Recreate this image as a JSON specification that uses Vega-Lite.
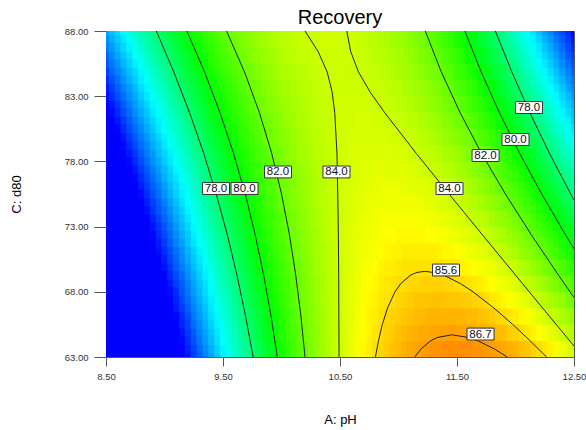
{
  "$schema": "https://vega.github.io/schema/vega-lite/v6.json",
  "width": 468,
  "height": 326,
  "autosize": {"type": "none"},
  "padding": {"left": 106, "top": 31, "right": 12, "bottom": 73},
  "background": "white",
  "config": {"view": {"stroke": "#555", "strokeWidth": 1}, "font": "Liberation Sans"},
  "title": {"text": "Recovery", "fontSize": 20, "fontWeight": "normal", "font": "Liberation Sans", "color": "#000", "offset": 3, "dy": 21, "baseline": "alphabetic", "anchor": "middle"},
  "datasets": {
    "grid": [
      {"p":8.55,"d":63.625,"r":61.6},{"p":8.55,"d":64.875,"r":62.3},{"p":8.55,"d":66.125,"r":63.0},{"p":8.55,"d":67.375,"r":63.6},{"p":8.55,"d":68.625,"r":64.3},{"p":8.55,"d":69.875,"r":64.9},{"p":8.55,"d":71.125,"r":65.6},{"p":8.55,"d":72.375,"r":66.2},{"p":8.55,"d":73.625,"r":66.9},{"p":8.55,"d":74.875,"r":67.5},{"p":8.55,"d":76.125,"r":68.2},{"p":8.55,"d":77.375,"r":68.8},{"p":8.55,"d":78.625,"r":69.5},{"p":8.55,"d":79.875,"r":70.1},{"p":8.55,"d":81.125,"r":70.8},{"p":8.55,"d":82.375,"r":71.4},{"p":8.55,"d":83.625,"r":72.1},{"p":8.55,"d":84.875,"r":72.8},{"p":8.55,"d":86.125,"r":73.4},{"p":8.55,"d":87.375,"r":74.1},
      {"p":8.65,"d":63.625,"r":63.3},{"p":8.65,"d":64.875,"r":64.0},{"p":8.65,"d":66.125,"r":64.6},{"p":8.65,"d":67.375,"r":65.2},{"p":8.65,"d":68.625,"r":65.8},{"p":8.65,"d":69.875,"r":66.4},{"p":8.65,"d":71.125,"r":67.1},{"p":8.65,"d":72.375,"r":67.7},{"p":8.65,"d":73.625,"r":68.3},{"p":8.65,"d":74.875,"r":68.9},{"p":8.65,"d":76.125,"r":69.5},{"p":8.65,"d":77.375,"r":70.2},{"p":8.65,"d":78.625,"r":70.8},{"p":8.65,"d":79.875,"r":71.4},{"p":8.65,"d":81.125,"r":72.0},{"p":8.65,"d":82.375,"r":72.6},{"p":8.65,"d":83.625,"r":73.3},{"p":8.65,"d":84.875,"r":73.9},{"p":8.65,"d":86.125,"r":74.5},{"p":8.65,"d":87.375,"r":75.1},
      {"p":8.75,"d":63.625,"r":65.0},{"p":8.75,"d":64.875,"r":65.5},{"p":8.75,"d":66.125,"r":66.1},{"p":8.75,"d":67.375,"r":66.7},{"p":8.75,"d":68.625,"r":67.3},{"p":8.75,"d":69.875,"r":67.9},{"p":8.75,"d":71.125,"r":68.5},{"p":8.75,"d":72.375,"r":69.1},{"p":8.75,"d":73.625,"r":69.7},{"p":8.75,"d":74.875,"r":70.2},{"p":8.75,"d":76.125,"r":70.8},{"p":8.75,"d":77.375,"r":71.4},{"p":8.75,"d":78.625,"r":72.0},{"p":8.75,"d":79.875,"r":72.6},{"p":8.75,"d":81.125,"r":73.2},{"p":8.75,"d":82.375,"r":73.8},{"p":8.75,"d":83.625,"r":74.3},{"p":8.75,"d":84.875,"r":74.9},{"p":8.75,"d":86.125,"r":75.5},{"p":8.75,"d":87.375,"r":76.1},
      {"p":8.85,"d":63.625,"r":66.5},{"p":8.85,"d":64.875,"r":67.1},{"p":8.85,"d":66.125,"r":67.6},{"p":8.85,"d":67.375,"r":68.2},{"p":8.85,"d":68.625,"r":68.7},{"p":8.85,"d":69.875,"r":69.3},{"p":8.85,"d":71.125,"r":69.8},{"p":8.85,"d":72.375,"r":70.4},{"p":8.85,"d":73.625,"r":71.0},{"p":8.85,"d":74.875,"r":71.5},{"p":8.85,"d":76.125,"r":72.1},{"p":8.85,"d":77.375,"r":72.6},{"p":8.85,"d":78.625,"r":73.2},{"p":8.85,"d":79.875,"r":73.7},{"p":8.85,"d":81.125,"r":74.3},{"p":8.85,"d":82.375,"r":74.8},{"p":8.85,"d":83.625,"r":75.4},{"p":8.85,"d":84.875,"r":75.9},{"p":8.85,"d":86.125,"r":76.5},{"p":8.85,"d":87.375,"r":77.0},
      {"p":8.95,"d":63.625,"r":68.0},{"p":8.95,"d":64.875,"r":68.6},{"p":8.95,"d":66.125,"r":69.1},{"p":8.95,"d":67.375,"r":69.6},{"p":8.95,"d":68.625,"r":70.1},{"p":8.95,"d":69.875,"r":70.6},{"p":8.95,"d":71.125,"r":71.2},{"p":8.95,"d":72.375,"r":71.7},{"p":8.95,"d":73.625,"r":72.2},{"p":8.95,"d":74.875,"r":72.7},{"p":8.95,"d":76.125,"r":73.2},{"p":8.95,"d":77.375,"r":73.8},{"p":8.95,"d":78.625,"r":74.3},{"p":8.95,"d":79.875,"r":74.8},{"p":8.95,"d":81.125,"r":75.3},{"p":8.95,"d":82.375,"r":75.8},{"p":8.95,"d":83.625,"r":76.4},{"p":8.95,"d":84.875,"r":76.9},{"p":8.95,"d":86.125,"r":77.4},{"p":8.95,"d":87.375,"r":77.9},
      {"p":9.05,"d":63.625,"r":69.5},{"p":9.05,"d":64.875,"r":70.0},{"p":9.05,"d":66.125,"r":70.5},{"p":9.05,"d":67.375,"r":71.0},{"p":9.05,"d":68.625,"r":71.4},{"p":9.05,"d":69.875,"r":71.9},{"p":9.05,"d":71.125,"r":72.4},{"p":9.05,"d":72.375,"r":72.9},{"p":9.05,"d":73.625,"r":73.4},{"p":9.05,"d":74.875,"r":73.9},{"p":9.05,"d":76.125,"r":74.4},{"p":9.05,"d":77.375,"r":74.8},{"p":9.05,"d":78.625,"r":75.3},{"p":9.05,"d":79.875,"r":75.8},{"p":9.05,"d":81.125,"r":76.3},{"p":9.05,"d":82.375,"r":76.8},{"p":9.05,"d":83.625,"r":77.3},{"p":9.05,"d":84.875,"r":77.8},{"p":9.05,"d":86.125,"r":78.2},{"p":9.05,"d":87.375,"r":78.7},
      {"p":9.15,"d":63.625,"r":70.9},{"p":9.15,"d":64.875,"r":71.3},{"p":9.15,"d":66.125,"r":71.8},{"p":9.15,"d":67.375,"r":72.3},{"p":9.15,"d":68.625,"r":72.7},{"p":9.15,"d":69.875,"r":73.2},{"p":9.15,"d":71.125,"r":73.6},{"p":9.15,"d":72.375,"r":74.1},{"p":9.15,"d":73.625,"r":74.5},{"p":9.15,"d":74.875,"r":75.0},{"p":9.15,"d":76.125,"r":75.4},{"p":9.15,"d":77.375,"r":75.9},{"p":9.15,"d":78.625,"r":76.3},{"p":9.15,"d":79.875,"r":76.8},{"p":9.15,"d":81.125,"r":77.2},{"p":9.15,"d":82.375,"r":77.7},{"p":9.15,"d":83.625,"r":78.1},{"p":9.15,"d":84.875,"r":78.6},{"p":9.15,"d":86.125,"r":79.0},{"p":9.15,"d":87.375,"r":79.5},
      {"p":9.25,"d":63.625,"r":72.2},{"p":9.25,"d":64.875,"r":72.6},{"p":9.25,"d":66.125,"r":73.1},{"p":9.25,"d":67.375,"r":73.5},{"p":9.25,"d":68.625,"r":73.9},{"p":9.25,"d":69.875,"r":74.3},{"p":9.25,"d":71.125,"r":74.7},{"p":9.25,"d":72.375,"r":75.2},{"p":9.25,"d":73.625,"r":75.6},{"p":9.25,"d":74.875,"r":76.0},{"p":9.25,"d":76.125,"r":76.4},{"p":9.25,"d":77.375,"r":76.8},{"p":9.25,"d":78.625,"r":77.3},{"p":9.25,"d":79.875,"r":77.7},{"p":9.25,"d":81.125,"r":78.1},{"p":9.25,"d":82.375,"r":78.5},{"p":9.25,"d":83.625,"r":78.9},{"p":9.25,"d":84.875,"r":79.3},{"p":9.25,"d":86.125,"r":79.8},{"p":9.25,"d":87.375,"r":80.2},
      {"p":9.35,"d":63.625,"r":73.5},{"p":9.35,"d":64.875,"r":73.9},{"p":9.35,"d":66.125,"r":74.3},{"p":9.35,"d":67.375,"r":74.7},{"p":9.35,"d":68.625,"r":75.0},{"p":9.35,"d":69.875,"r":75.4},{"p":9.35,"d":71.125,"r":75.8},{"p":9.35,"d":72.375,"r":76.2},{"p":9.35,"d":73.625,"r":76.6},{"p":9.35,"d":74.875,"r":77.0},{"p":9.35,"d":76.125,"r":77.4},{"p":9.35,"d":77.375,"r":77.7},{"p":9.35,"d":78.625,"r":78.1},{"p":9.35,"d":79.875,"r":78.5},{"p":9.35,"d":81.125,"r":78.9},{"p":9.35,"d":82.375,"r":79.3},{"p":9.35,"d":83.625,"r":79.7},{"p":9.35,"d":84.875,"r":80.1},{"p":9.35,"d":86.125,"r":80.4},{"p":9.35,"d":87.375,"r":80.8},
      {"p":9.45,"d":63.625,"r":74.7},{"p":9.45,"d":64.875,"r":75.1},{"p":9.45,"d":66.125,"r":75.4},{"p":9.45,"d":67.375,"r":75.8},{"p":9.45,"d":68.625,"r":76.1},{"p":9.45,"d":69.875,"r":76.5},{"p":9.45,"d":71.125,"r":76.8},{"p":9.45,"d":72.375,"r":77.2},{"p":9.45,"d":73.625,"r":77.5},{"p":9.45,"d":74.875,"r":77.9},{"p":9.45,"d":76.125,"r":78.2},{"p":9.45,"d":77.375,"r":78.6},{"p":9.45,"d":78.625,"r":78.9},{"p":9.45,"d":79.875,"r":79.3},{"p":9.45,"d":81.125,"r":79.7},{"p":9.45,"d":82.375,"r":80.0},{"p":9.45,"d":83.625,"r":80.4},{"p":9.45,"d":84.875,"r":80.7},{"p":9.45,"d":86.125,"r":81.1},{"p":9.45,"d":87.375,"r":81.4},
      {"p":9.55,"d":63.625,"r":75.9},{"p":9.55,"d":64.875,"r":76.2},{"p":9.55,"d":66.125,"r":76.5},{"p":9.55,"d":67.375,"r":76.8},{"p":9.55,"d":68.625,"r":77.2},{"p":9.55,"d":69.875,"r":77.5},{"p":9.55,"d":71.125,"r":77.8},{"p":9.55,"d":72.375,"r":78.1},{"p":9.55,"d":73.625,"r":78.4},{"p":9.55,"d":74.875,"r":78.8},{"p":9.55,"d":76.125,"r":79.1},{"p":9.55,"d":77.375,"r":79.4},{"p":9.55,"d":78.625,"r":79.7},{"p":9.55,"d":79.875,"r":80.0},{"p":9.55,"d":81.125,"r":80.3},{"p":9.55,"d":82.375,"r":80.7},{"p":9.55,"d":83.625,"r":81.0},{"p":9.55,"d":84.875,"r":81.3},{"p":9.55,"d":86.125,"r":81.6},{"p":9.55,"d":87.375,"r":81.9},
      {"p":9.65,"d":63.625,"r":77.0},{"p":9.65,"d":64.875,"r":77.3},{"p":9.65,"d":66.125,"r":77.6},{"p":9.65,"d":67.375,"r":77.9},{"p":9.65,"d":68.625,"r":78.1},{"p":9.65,"d":69.875,"r":78.4},{"p":9.65,"d":71.125,"r":78.7},{"p":9.65,"d":72.375,"r":79.0},{"p":9.65,"d":73.625,"r":79.3},{"p":9.65,"d":74.875,"r":79.6},{"p":9.65,"d":76.125,"r":79.8},{"p":9.65,"d":77.375,"r":80.1},{"p":9.65,"d":78.625,"r":80.4},{"p":9.65,"d":79.875,"r":80.7},{"p":9.65,"d":81.125,"r":81.0},{"p":9.65,"d":82.375,"r":81.3},{"p":9.65,"d":83.625,"r":81.6},{"p":9.65,"d":84.875,"r":81.8},{"p":9.65,"d":86.125,"r":82.1},{"p":9.65,"d":87.375,"r":82.4},
      {"p":9.75,"d":63.625,"r":78.0},{"p":9.75,"d":64.875,"r":78.3},{"p":9.75,"d":66.125,"r":78.5},{"p":9.75,"d":67.375,"r":78.8},{"p":9.75,"d":68.625,"r":79.1},{"p":9.75,"d":69.875,"r":79.3},{"p":9.75,"d":71.125,"r":79.6},{"p":9.75,"d":72.375,"r":79.8},{"p":9.75,"d":73.625,"r":80.1},{"p":9.75,"d":74.875,"r":80.3},{"p":9.75,"d":76.125,"r":80.6},{"p":9.75,"d":77.375,"r":80.8},{"p":9.75,"d":78.625,"r":81.1},{"p":9.75,"d":79.875,"r":81.3},{"p":9.75,"d":81.125,"r":81.6},{"p":9.75,"d":82.375,"r":81.8},{"p":9.75,"d":83.625,"r":82.1},{"p":9.75,"d":84.875,"r":82.3},{"p":9.75,"d":86.125,"r":82.6},{"p":9.75,"d":87.375,"r":82.8},
      {"p":9.85,"d":63.625,"r":79.0},{"p":9.85,"d":64.875,"r":79.3},{"p":9.85,"d":66.125,"r":79.5},{"p":9.85,"d":67.375,"r":79.7},{"p":9.85,"d":68.625,"r":79.9},{"p":9.85,"d":69.875,"r":80.1},{"p":9.85,"d":71.125,"r":80.3},{"p":9.85,"d":72.375,"r":80.6},{"p":9.85,"d":73.625,"r":80.8},{"p":9.85,"d":74.875,"r":81.0},{"p":9.85,"d":76.125,"r":81.2},{"p":9.85,"d":77.375,"r":81.4},{"p":9.85,"d":78.625,"r":81.6},{"p":9.85,"d":79.875,"r":81.9},{"p":9.85,"d":81.125,"r":82.1},{"p":9.85,"d":82.375,"r":82.3},{"p":9.85,"d":83.625,"r":82.5},{"p":9.85,"d":84.875,"r":82.7},{"p":9.85,"d":86.125,"r":83.0},{"p":9.85,"d":87.375,"r":83.2},
      {"p":9.95,"d":63.625,"r":80.0},{"p":9.95,"d":64.875,"r":80.1},{"p":9.95,"d":66.125,"r":80.3},{"p":9.95,"d":67.375,"r":80.5},{"p":9.95,"d":68.625,"r":80.7},{"p":9.95,"d":69.875,"r":80.9},{"p":9.95,"d":71.125,"r":81.1},{"p":9.95,"d":72.375,"r":81.3},{"p":9.95,"d":73.625,"r":81.4},{"p":9.95,"d":74.875,"r":81.6},{"p":9.95,"d":76.125,"r":81.8},{"p":9.95,"d":77.375,"r":82.0},{"p":9.95,"d":78.625,"r":82.2},{"p":9.95,"d":79.875,"r":82.4},{"p":9.95,"d":81.125,"r":82.5},{"p":9.95,"d":82.375,"r":82.7},{"p":9.95,"d":83.625,"r":82.9},{"p":9.95,"d":84.875,"r":83.1},{"p":9.95,"d":86.125,"r":83.3},{"p":9.95,"d":87.375,"r":83.5},
      {"p":10.05,"d":63.625,"r":80.8},{"p":10.05,"d":64.875,"r":81.0},{"p":10.05,"d":66.125,"r":81.1},{"p":10.05,"d":67.375,"r":81.3},{"p":10.05,"d":68.625,"r":81.4},{"p":10.05,"d":69.875,"r":81.6},{"p":10.05,"d":71.125,"r":81.7},{"p":10.05,"d":72.375,"r":81.9},{"p":10.05,"d":73.625,"r":82.0},{"p":10.05,"d":74.875,"r":82.2},{"p":10.05,"d":76.125,"r":82.3},{"p":10.05,"d":77.375,"r":82.5},{"p":10.05,"d":78.625,"r":82.6},{"p":10.05,"d":79.875,"r":82.8},{"p":10.05,"d":81.125,"r":83.0},{"p":10.05,"d":82.375,"r":83.1},{"p":10.05,"d":83.625,"r":83.2},{"p":10.05,"d":84.875,"r":83.4},{"p":10.05,"d":86.125,"r":83.6},{"p":10.05,"d":87.375,"r":83.7},
      {"p":10.15,"d":63.625,"r":81.7},{"p":10.15,"d":64.875,"r":81.8},{"p":10.15,"d":66.125,"r":81.9},{"p":10.15,"d":67.375,"r":82.0},{"p":10.15,"d":68.625,"r":82.1},{"p":10.15,"d":69.875,"r":82.2},{"p":10.15,"d":71.125,"r":82.4},{"p":10.15,"d":72.375,"r":82.5},{"p":10.15,"d":73.625,"r":82.6},{"p":10.15,"d":74.875,"r":82.7},{"p":10.15,"d":76.125,"r":82.8},{"p":10.15,"d":77.375,"r":82.9},{"p":10.15,"d":78.625,"r":83.1},{"p":10.15,"d":79.875,"r":83.2},{"p":10.15,"d":81.125,"r":83.3},{"p":10.15,"d":82.375,"r":83.4},{"p":10.15,"d":83.625,"r":83.5},{"p":10.15,"d":84.875,"r":83.6},{"p":10.15,"d":86.125,"r":83.8},{"p":10.15,"d":87.375,"r":83.9},
      {"p":10.25,"d":63.625,"r":82.4},{"p":10.25,"d":64.875,"r":82.5},{"p":10.25,"d":66.125,"r":82.6},{"p":10.25,"d":67.375,"r":82.7},{"p":10.25,"d":68.625,"r":82.7},{"p":10.25,"d":69.875,"r":82.8},{"p":10.25,"d":71.125,"r":82.9},{"p":10.25,"d":72.375,"r":83.0},{"p":10.25,"d":73.625,"r":83.1},{"p":10.25,"d":74.875,"r":83.2},{"p":10.25,"d":76.125,"r":83.2},{"p":10.25,"d":77.375,"r":83.3},{"p":10.25,"d":78.625,"r":83.4},{"p":10.25,"d":79.875,"r":83.5},{"p":10.25,"d":81.125,"r":83.6},{"p":10.25,"d":82.375,"r":83.7},{"p":10.25,"d":83.625,"r":83.7},{"p":10.25,"d":84.875,"r":83.8},{"p":10.25,"d":86.125,"r":83.9},{"p":10.25,"d":87.375,"r":84.0},
      {"p":10.35,"d":63.625,"r":83.1},{"p":10.35,"d":64.875,"r":83.2},{"p":10.35,"d":66.125,"r":83.2},{"p":10.35,"d":67.375,"r":83.3},{"p":10.35,"d":68.625,"r":83.3},{"p":10.35,"d":69.875,"r":83.4},{"p":10.35,"d":71.125,"r":83.4},{"p":10.35,"d":72.375,"r":83.5},{"p":10.35,"d":73.625,"r":83.5},{"p":10.35,"d":74.875,"r":83.6},{"p":10.35,"d":76.125,"r":83.6},{"p":10.35,"d":77.375,"r":83.7},{"p":10.35,"d":78.625,"r":83.7},{"p":10.35,"d":79.875,"r":83.8},{"p":10.35,"d":81.125,"r":83.8},{"p":10.35,"d":82.375,"r":83.9},{"p":10.35,"d":83.625,"r":83.9},{"p":10.35,"d":84.875,"r":84.0},{"p":10.35,"d":86.125,"r":84.0},{"p":10.35,"d":87.375,"r":84.1},
      {"p":10.45,"d":63.625,"r":83.8},{"p":10.45,"d":64.875,"r":83.8},{"p":10.45,"d":66.125,"r":83.8},{"p":10.45,"d":67.375,"r":83.8},{"p":10.45,"d":68.625,"r":83.8},{"p":10.45,"d":69.875,"r":83.8},{"p":10.45,"d":71.125,"r":83.9},{"p":10.45,"d":72.375,"r":83.9},{"p":10.45,"d":73.625,"r":83.9},{"p":10.45,"d":74.875,"r":83.9},{"p":10.45,"d":76.125,"r":83.9},{"p":10.45,"d":77.375,"r":83.9},{"p":10.45,"d":78.625,"r":84.0},{"p":10.45,"d":79.875,"r":84.0},{"p":10.45,"d":81.125,"r":84.0},{"p":10.45,"d":82.375,"r":84.0},{"p":10.45,"d":83.625,"r":84.0},{"p":10.45,"d":84.875,"r":84.0},{"p":10.45,"d":86.125,"r":84.1},{"p":10.45,"d":87.375,"r":84.1},
      {"p":10.55,"d":63.625,"r":84.3},{"p":10.55,"d":64.875,"r":84.3},{"p":10.55,"d":66.125,"r":84.3},{"p":10.55,"d":67.375,"r":84.3},{"p":10.55,"d":68.625,"r":84.3},{"p":10.55,"d":69.875,"r":84.2},{"p":10.55,"d":71.125,"r":84.2},{"p":10.55,"d":72.375,"r":84.2},{"p":10.55,"d":73.625,"r":84.2},{"p":10.55,"d":74.875,"r":84.2},{"p":10.55,"d":76.125,"r":84.2},{"p":10.55,"d":77.375,"r":84.1},{"p":10.55,"d":78.625,"r":84.1},{"p":10.55,"d":79.875,"r":84.1},{"p":10.55,"d":81.125,"r":84.1},{"p":10.55,"d":82.375,"r":84.1},{"p":10.55,"d":83.625,"r":84.1},{"p":10.55,"d":84.875,"r":84.0},{"p":10.55,"d":86.125,"r":84.0},{"p":10.55,"d":87.375,"r":84.0},
      {"p":10.65,"d":63.625,"r":84.9},{"p":10.65,"d":64.875,"r":84.8},{"p":10.65,"d":66.125,"r":84.8},{"p":10.65,"d":67.375,"r":84.7},{"p":10.65,"d":68.625,"r":84.7},{"p":10.65,"d":69.875,"r":84.6},{"p":10.65,"d":71.125,"r":84.6},{"p":10.65,"d":72.375,"r":84.5},{"p":10.65,"d":73.625,"r":84.5},{"p":10.65,"d":74.875,"r":84.4},{"p":10.65,"d":76.125,"r":84.4},{"p":10.65,"d":77.375,"r":84.3},{"p":10.65,"d":78.625,"r":84.3},{"p":10.65,"d":79.875,"r":84.2},{"p":10.65,"d":81.125,"r":84.2},{"p":10.65,"d":82.375,"r":84.1},{"p":10.65,"d":83.625,"r":84.1},{"p":10.65,"d":84.875,"r":84.0},{"p":10.65,"d":86.125,"r":84.0},{"p":10.65,"d":87.375,"r":83.9},
      {"p":10.75,"d":63.625,"r":85.3},{"p":10.75,"d":64.875,"r":85.2},{"p":10.75,"d":66.125,"r":85.2},{"p":10.75,"d":67.375,"r":85.1},{"p":10.75,"d":68.625,"r":85.0},{"p":10.75,"d":69.875,"r":84.9},{"p":10.75,"d":71.125,"r":84.8},{"p":10.75,"d":72.375,"r":84.7},{"p":10.75,"d":73.625,"r":84.7},{"p":10.75,"d":74.875,"r":84.6},{"p":10.75,"d":76.125,"r":84.5},{"p":10.75,"d":77.375,"r":84.4},{"p":10.75,"d":78.625,"r":84.3},{"p":10.75,"d":79.875,"r":84.2},{"p":10.75,"d":81.125,"r":84.2},{"p":10.75,"d":82.375,"r":84.1},{"p":10.75,"d":83.625,"r":84.0},{"p":10.75,"d":84.875,"r":83.9},{"p":10.75,"d":86.125,"r":83.8},{"p":10.75,"d":87.375,"r":83.7},
      {"p":10.85,"d":63.625,"r":85.7},{"p":10.85,"d":64.875,"r":85.6},{"p":10.85,"d":66.125,"r":85.5},{"p":10.85,"d":67.375,"r":85.4},{"p":10.85,"d":68.625,"r":85.3},{"p":10.85,"d":69.875,"r":85.2},{"p":10.85,"d":71.125,"r":85.0},{"p":10.85,"d":72.375,"r":84.9},{"p":10.85,"d":73.625,"r":84.8},{"p":10.85,"d":74.875,"r":84.7},{"p":10.85,"d":76.125,"r":84.6},{"p":10.85,"d":77.375,"r":84.5},{"p":10.85,"d":78.625,"r":84.3},{"p":10.85,"d":79.875,"r":84.2},{"p":10.85,"d":81.125,"r":84.1},{"p":10.85,"d":82.375,"r":84.0},{"p":10.85,"d":83.625,"r":83.9},{"p":10.85,"d":84.875,"r":83.7},{"p":10.85,"d":86.125,"r":83.6},{"p":10.85,"d":87.375,"r":83.5},
      {"p":10.95,"d":63.625,"r":86.1},{"p":10.95,"d":64.875,"r":85.9},{"p":10.95,"d":66.125,"r":85.8},{"p":10.95,"d":67.375,"r":85.6},{"p":10.95,"d":68.625,"r":85.5},{"p":10.95,"d":69.875,"r":85.3},{"p":10.95,"d":71.125,"r":85.2},{"p":10.95,"d":72.375,"r":85.0},{"p":10.95,"d":73.625,"r":84.9},{"p":10.95,"d":74.875,"r":84.7},{"p":10.95,"d":76.125,"r":84.6},{"p":10.95,"d":77.375,"r":84.4},{"p":10.95,"d":78.625,"r":84.3},{"p":10.95,"d":79.875,"r":84.1},{"p":10.95,"d":81.125,"r":84.0},{"p":10.95,"d":82.375,"r":83.8},{"p":10.95,"d":83.625,"r":83.7},{"p":10.95,"d":84.875,"r":83.5},{"p":10.95,"d":86.125,"r":83.4},{"p":10.95,"d":87.375,"r":83.2},
      {"p":11.05,"d":63.625,"r":86.4},{"p":11.05,"d":64.875,"r":86.2},{"p":11.05,"d":66.125,"r":86.0},{"p":11.05,"d":67.375,"r":85.8},{"p":11.05,"d":68.625,"r":85.6},{"p":11.05,"d":69.875,"r":85.5},{"p":11.05,"d":71.125,"r":85.3},{"p":11.05,"d":72.375,"r":85.1},{"p":11.05,"d":73.625,"r":84.9},{"p":11.05,"d":74.875,"r":84.7},{"p":11.05,"d":76.125,"r":84.5},{"p":11.05,"d":77.375,"r":84.4},{"p":11.05,"d":78.625,"r":84.2},{"p":11.05,"d":79.875,"r":84.0},{"p":11.05,"d":81.125,"r":83.8},{"p":11.05,"d":82.375,"r":83.6},{"p":11.05,"d":83.625,"r":83.4},{"p":11.05,"d":84.875,"r":83.2},{"p":11.05,"d":86.125,"r":83.1},{"p":11.05,"d":87.375,"r":82.9},
      {"p":11.15,"d":63.625,"r":86.6},{"p":11.15,"d":64.875,"r":86.4},{"p":11.15,"d":66.125,"r":86.2},{"p":11.15,"d":67.375,"r":86.0},{"p":11.15,"d":68.625,"r":85.7},{"p":11.15,"d":69.875,"r":85.5},{"p":11.15,"d":71.125,"r":85.3},{"p":11.15,"d":72.375,"r":85.1},{"p":11.15,"d":73.625,"r":84.9},{"p":11.15,"d":74.875,"r":84.7},{"p":11.15,"d":76.125,"r":84.4},{"p":11.15,"d":77.375,"r":84.2},{"p":11.15,"d":78.625,"r":84.0},{"p":11.15,"d":79.875,"r":83.8},{"p":11.15,"d":81.125,"r":83.6},{"p":11.15,"d":82.375,"r":83.3},{"p":11.15,"d":83.625,"r":83.1},{"p":11.15,"d":84.875,"r":82.9},{"p":11.15,"d":86.125,"r":82.7},{"p":11.15,"d":87.375,"r":82.5},
      {"p":11.25,"d":63.625,"r":86.8},{"p":11.25,"d":64.875,"r":86.5},{"p":11.25,"d":66.125,"r":86.3},{"p":11.25,"d":67.375,"r":86.0},{"p":11.25,"d":68.625,"r":85.8},{"p":11.25,"d":69.875,"r":85.5},{"p":11.25,"d":71.125,"r":85.3},{"p":11.25,"d":72.375,"r":85.0},{"p":11.25,"d":73.625,"r":84.8},{"p":11.25,"d":74.875,"r":84.5},{"p":11.25,"d":76.125,"r":84.3},{"p":11.25,"d":77.375,"r":84.0},{"p":11.25,"d":78.625,"r":83.8},{"p":11.25,"d":79.875,"r":83.5},{"p":11.25,"d":81.125,"r":83.3},{"p":11.25,"d":82.375,"r":83.0},{"p":11.25,"d":83.625,"r":82.8},{"p":11.25,"d":84.875,"r":82.5},{"p":11.25,"d":86.125,"r":82.3},{"p":11.25,"d":87.375,"r":82.0},
      {"p":11.35,"d":63.625,"r":86.9},{"p":11.35,"d":64.875,"r":86.6},{"p":11.35,"d":66.125,"r":86.3},{"p":11.35,"d":67.375,"r":86.1},{"p":11.35,"d":68.625,"r":85.8},{"p":11.35,"d":69.875,"r":85.5},{"p":11.35,"d":71.125,"r":85.2},{"p":11.35,"d":72.375,"r":84.9},{"p":11.35,"d":73.625,"r":84.6},{"p":11.35,"d":74.875,"r":84.3},{"p":11.35,"d":76.125,"r":84.1},{"p":11.35,"d":77.375,"r":83.8},{"p":11.35,"d":78.625,"r":83.5},{"p":11.35,"d":79.875,"r":83.2},{"p":11.35,"d":81.125,"r":82.9},{"p":11.35,"d":82.375,"r":82.6},{"p":11.35,"d":83.625,"r":82.4},{"p":11.35,"d":84.875,"r":82.1},{"p":11.35,"d":86.125,"r":81.8},{"p":11.35,"d":87.375,"r":81.5},
      {"p":11.45,"d":63.625,"r":87.0},{"p":11.45,"d":64.875,"r":86.7},{"p":11.45,"d":66.125,"r":86.3},{"p":11.45,"d":67.375,"r":86.0},{"p":11.45,"d":68.625,"r":85.7},{"p":11.45,"d":69.875,"r":85.4},{"p":11.45,"d":71.125,"r":85.1},{"p":11.45,"d":72.375,"r":84.7},{"p":11.45,"d":73.625,"r":84.4},{"p":11.45,"d":74.875,"r":84.1},{"p":11.45,"d":76.125,"r":83.8},{"p":11.45,"d":77.375,"r":83.5},{"p":11.45,"d":78.625,"r":83.2},{"p":11.45,"d":79.875,"r":82.8},{"p":11.45,"d":81.125,"r":82.5},{"p":11.45,"d":82.375,"r":82.2},{"p":11.45,"d":83.625,"r":81.9},{"p":11.45,"d":84.875,"r":81.6},{"p":11.45,"d":86.125,"r":81.2},{"p":11.45,"d":87.375,"r":80.9},
      {"p":11.55,"d":63.625,"r":87.0},{"p":11.55,"d":64.875,"r":86.6},{"p":11.55,"d":66.125,"r":86.3},{"p":11.55,"d":67.375,"r":85.9},{"p":11.55,"d":68.625,"r":85.6},{"p":11.55,"d":69.875,"r":85.2},{"p":11.55,"d":71.125,"r":84.9},{"p":11.55,"d":72.375,"r":84.5},{"p":11.55,"d":73.625,"r":84.2},{"p":11.55,"d":74.875,"r":83.8},{"p":11.55,"d":76.125,"r":83.5},{"p":11.55,"d":77.375,"r":83.1},{"p":11.55,"d":78.625,"r":82.8},{"p":11.55,"d":79.875,"r":82.4},{"p":11.55,"d":81.125,"r":82.1},{"p":11.55,"d":82.375,"r":81.7},{"p":11.55,"d":83.625,"r":81.4},{"p":11.55,"d":84.875,"r":81.0},{"p":11.55,"d":86.125,"r":80.6},{"p":11.55,"d":87.375,"r":80.3},
      {"p":11.65,"d":63.625,"r":86.9},{"p":11.65,"d":64.875,"r":86.5},{"p":11.65,"d":66.125,"r":86.2},{"p":11.65,"d":67.375,"r":85.8},{"p":11.65,"d":68.625,"r":85.4},{"p":11.65,"d":69.875,"r":85.0},{"p":11.65,"d":71.125,"r":84.6},{"p":11.65,"d":72.375,"r":84.2},{"p":11.65,"d":73.625,"r":83.8},{"p":11.65,"d":74.875,"r":83.5},{"p":11.65,"d":76.125,"r":83.1},{"p":11.65,"d":77.375,"r":82.7},{"p":11.65,"d":78.625,"r":82.3},{"p":11.65,"d":79.875,"r":81.9},{"p":11.65,"d":81.125,"r":81.5},{"p":11.65,"d":82.375,"r":81.1},{"p":11.65,"d":83.625,"r":80.8},{"p":11.65,"d":84.875,"r":80.4},{"p":11.65,"d":86.125,"r":80.0},{"p":11.65,"d":87.375,"r":79.6},
      {"p":11.75,"d":63.625,"r":86.8},{"p":11.75,"d":64.875,"r":86.4},{"p":11.75,"d":66.125,"r":86.0},{"p":11.75,"d":67.375,"r":85.6},{"p":11.75,"d":68.625,"r":85.1},{"p":11.75,"d":69.875,"r":84.7},{"p":11.75,"d":71.125,"r":84.3},{"p":11.75,"d":72.375,"r":83.9},{"p":11.75,"d":73.625,"r":83.5},{"p":11.75,"d":74.875,"r":83.0},{"p":11.75,"d":76.125,"r":82.6},{"p":11.75,"d":77.375,"r":82.2},{"p":11.75,"d":78.625,"r":81.8},{"p":11.75,"d":79.875,"r":81.4},{"p":11.75,"d":81.125,"r":80.9},{"p":11.75,"d":82.375,"r":80.5},{"p":11.75,"d":83.625,"r":80.1},{"p":11.75,"d":84.875,"r":79.7},{"p":11.75,"d":86.125,"r":79.3},{"p":11.75,"d":87.375,"r":78.9},
      {"p":11.85,"d":63.625,"r":86.6},{"p":11.85,"d":64.875,"r":86.2},{"p":11.85,"d":66.125,"r":85.7},{"p":11.85,"d":67.375,"r":85.3},{"p":11.85,"d":68.625,"r":84.8},{"p":11.85,"d":69.875,"r":84.4},{"p":11.85,"d":71.125,"r":83.9},{"p":11.85,"d":72.375,"r":83.5},{"p":11.85,"d":73.625,"r":83.0},{"p":11.85,"d":74.875,"r":82.6},{"p":11.85,"d":76.125,"r":82.1},{"p":11.85,"d":77.375,"r":81.7},{"p":11.85,"d":78.625,"r":81.2},{"p":11.85,"d":79.875,"r":80.8},{"p":11.85,"d":81.125,"r":80.3},{"p":11.85,"d":82.375,"r":79.9},{"p":11.85,"d":83.625,"r":79.4},{"p":11.85,"d":84.875,"r":79.0},{"p":11.85,"d":86.125,"r":78.5},{"p":11.85,"d":87.375,"r":78.0},
      {"p":11.95,"d":63.625,"r":86.4},{"p":11.95,"d":64.875,"r":85.9},{"p":11.95,"d":66.125,"r":85.4},{"p":11.95,"d":67.375,"r":85.0},{"p":11.95,"d":68.625,"r":84.5},{"p":11.95,"d":69.875,"r":84.0},{"p":11.95,"d":71.125,"r":83.5},{"p":11.95,"d":72.375,"r":83.0},{"p":11.95,"d":73.625,"r":82.5},{"p":11.95,"d":74.875,"r":82.0},{"p":11.95,"d":76.125,"r":81.6},{"p":11.95,"d":77.375,"r":81.1},{"p":11.95,"d":78.625,"r":80.6},{"p":11.95,"d":79.875,"r":80.1},{"p":11.95,"d":81.125,"r":79.6},{"p":11.95,"d":82.375,"r":79.1},{"p":11.95,"d":83.625,"r":78.6},{"p":11.95,"d":84.875,"r":78.2},{"p":11.95,"d":86.125,"r":77.7},{"p":11.95,"d":87.375,"r":77.2},
      {"p":12.05,"d":63.625,"r":86.1},{"p":12.05,"d":64.875,"r":85.6},{"p":12.05,"d":66.125,"r":85.1},{"p":12.05,"d":67.375,"r":84.6},{"p":12.05,"d":68.625,"r":84.0},{"p":12.05,"d":69.875,"r":83.5},{"p":12.05,"d":71.125,"r":83.0},{"p":12.05,"d":72.375,"r":82.5},{"p":12.05,"d":73.625,"r":82.0},{"p":12.05,"d":74.875,"r":81.5},{"p":12.05,"d":76.125,"r":80.9},{"p":12.05,"d":77.375,"r":80.4},{"p":12.05,"d":78.625,"r":79.9},{"p":12.05,"d":79.875,"r":79.4},{"p":12.05,"d":81.125,"r":78.9},{"p":12.05,"d":82.375,"r":78.3},{"p":12.05,"d":83.625,"r":77.8},{"p":12.05,"d":84.875,"r":77.3},{"p":12.05,"d":86.125,"r":76.8},{"p":12.05,"d":87.375,"r":76.3},
      {"p":12.15,"d":63.625,"r":85.8},{"p":12.15,"d":64.875,"r":85.2},{"p":12.15,"d":66.125,"r":84.7},{"p":12.15,"d":67.375,"r":84.1},{"p":12.15,"d":68.625,"r":83.6},{"p":12.15,"d":69.875,"r":83.0},{"p":12.15,"d":71.125,"r":82.5},{"p":12.15,"d":72.375,"r":81.9},{"p":12.15,"d":73.625,"r":81.4},{"p":12.15,"d":74.875,"r":80.8},{"p":12.15,"d":76.125,"r":80.3},{"p":12.15,"d":77.375,"r":79.7},{"p":12.15,"d":78.625,"r":79.1},{"p":12.15,"d":79.875,"r":78.6},{"p":12.15,"d":81.125,"r":78.0},{"p":12.15,"d":82.375,"r":77.5},{"p":12.15,"d":83.625,"r":76.9},{"p":12.15,"d":84.875,"r":76.4},{"p":12.15,"d":86.125,"r":75.8},{"p":12.15,"d":87.375,"r":75.3},
      {"p":12.25,"d":63.625,"r":85.4},{"p":12.25,"d":64.875,"r":84.8},{"p":12.25,"d":66.125,"r":84.2},{"p":12.25,"d":67.375,"r":83.6},{"p":12.25,"d":68.625,"r":83.0},{"p":12.25,"d":69.875,"r":82.4},{"p":12.25,"d":71.125,"r":81.9},{"p":12.25,"d":72.375,"r":81.3},{"p":12.25,"d":73.625,"r":80.7},{"p":12.25,"d":74.875,"r":80.1},{"p":12.25,"d":76.125,"r":79.5},{"p":12.25,"d":77.375,"r":78.9},{"p":12.25,"d":78.625,"r":78.3},{"p":12.25,"d":79.875,"r":77.8},{"p":12.25,"d":81.125,"r":77.2},{"p":12.25,"d":82.375,"r":76.6},{"p":12.25,"d":83.625,"r":76.0},{"p":12.25,"d":84.875,"r":75.4},{"p":12.25,"d":86.125,"r":74.8},{"p":12.25,"d":87.375,"r":74.2},
      {"p":12.35,"d":63.625,"r":84.9},{"p":12.35,"d":64.875,"r":84.3},{"p":12.35,"d":66.125,"r":83.7},{"p":12.35,"d":67.375,"r":83.1},{"p":12.35,"d":68.625,"r":82.4},{"p":12.35,"d":69.875,"r":81.8},{"p":12.35,"d":71.125,"r":81.2},{"p":12.35,"d":72.375,"r":80.6},{"p":12.35,"d":73.625,"r":80.0},{"p":12.35,"d":74.875,"r":79.3},{"p":12.35,"d":76.125,"r":78.7},{"p":12.35,"d":77.375,"r":78.1},{"p":12.35,"d":78.625,"r":77.5},{"p":12.35,"d":79.875,"r":76.9},{"p":12.35,"d":81.125,"r":76.2},{"p":12.35,"d":82.375,"r":75.6},{"p":12.35,"d":83.625,"r":75.0},{"p":12.35,"d":84.875,"r":74.4},{"p":12.35,"d":86.125,"r":73.8},{"p":12.35,"d":87.375,"r":73.1},
      {"p":12.45,"d":63.625,"r":84.4},{"p":12.45,"d":64.875,"r":83.7},{"p":12.45,"d":66.125,"r":83.1},{"p":12.45,"d":67.375,"r":82.4},{"p":12.45,"d":68.625,"r":81.8},{"p":12.45,"d":69.875,"r":81.1},{"p":12.45,"d":71.125,"r":80.5},{"p":12.45,"d":72.375,"r":79.8},{"p":12.45,"d":73.625,"r":79.2},{"p":12.45,"d":74.875,"r":78.5},{"p":12.45,"d":76.125,"r":77.9},{"p":12.45,"d":77.375,"r":77.2},{"p":12.45,"d":78.625,"r":76.6},{"p":12.45,"d":79.875,"r":75.9},{"p":12.45,"d":81.125,"r":75.3},{"p":12.45,"d":82.375,"r":74.6},{"p":12.45,"d":83.625,"r":73.9},{"p":12.45,"d":84.875,"r":73.3},{"p":12.45,"d":86.125,"r":72.6},{"p":12.45,"d":87.375,"r":72.0}
    ],
    "fine": [
      {"p":8.5,"d":63.625,"r":60.8},{"p":8.5,"d":64.875,"r":61.5},{"p":8.5,"d":66.125,"r":62.1},{"p":8.5,"d":67.375,"r":62.8},{"p":8.5,"d":68.625,"r":63.5},{"p":8.5,"d":69.875,"r":64.1},{"p":8.5,"d":71.125,"r":64.8},{"p":8.5,"d":72.375,"r":65.5},{"p":8.5,"d":73.625,"r":66.1},{"p":8.5,"d":74.875,"r":66.8},{"p":8.5,"d":76.125,"r":67.5},{"p":8.5,"d":77.375,"r":68.2},{"p":8.5,"d":78.625,"r":68.8},{"p":8.5,"d":79.875,"r":69.5},{"p":8.5,"d":81.125,"r":70.2},{"p":8.5,"d":82.375,"r":70.8},{"p":8.5,"d":83.625,"r":71.5},{"p":8.5,"d":84.875,"r":72.2},{"p":8.5,"d":86.125,"r":72.8},{"p":8.5,"d":87.375,"r":73.5},
      {"p":8.6,"d":63.625,"r":62.5},{"p":8.6,"d":64.875,"r":63.1},{"p":8.6,"d":66.125,"r":63.8},{"p":8.6,"d":67.375,"r":64.4},{"p":8.6,"d":68.625,"r":65.0},{"p":8.6,"d":69.875,"r":65.7},{"p":8.6,"d":71.125,"r":66.3},{"p":8.6,"d":72.375,"r":67.0},{"p":8.6,"d":73.625,"r":67.6},{"p":8.6,"d":74.875,"r":68.2},{"p":8.6,"d":76.125,"r":68.9},{"p":8.6,"d":77.375,"r":69.5},{"p":8.6,"d":78.625,"r":70.1},{"p":8.6,"d":79.875,"r":70.8},{"p":8.6,"d":81.125,"r":71.4},{"p":8.6,"d":82.375,"r":72.0},{"p":8.6,"d":83.625,"r":72.7},{"p":8.6,"d":84.875,"r":73.3},{"p":8.6,"d":86.125,"r":74.0},{"p":8.6,"d":87.375,"r":74.6},
      {"p":8.7,"d":63.625,"r":64.2},{"p":8.7,"d":64.875,"r":64.8},{"p":8.7,"d":66.125,"r":65.4},{"p":8.7,"d":67.375,"r":66.0},{"p":8.7,"d":68.625,"r":66.6},{"p":8.7,"d":69.875,"r":67.2},{"p":8.7,"d":71.125,"r":67.8},{"p":8.7,"d":72.375,"r":68.4},{"p":8.7,"d":73.625,"r":69.0},{"p":8.7,"d":74.875,"r":69.6},{"p":8.7,"d":76.125,"r":70.2},{"p":8.7,"d":77.375,"r":70.8},{"p":8.7,"d":78.625,"r":71.4},{"p":8.7,"d":79.875,"r":72.0},{"p":8.7,"d":81.125,"r":72.6},{"p":8.7,"d":82.375,"r":73.2},{"p":8.7,"d":83.625,"r":73.8},{"p":8.7,"d":84.875,"r":74.4},{"p":8.7,"d":86.125,"r":75.0},{"p":8.7,"d":87.375,"r":75.6},
      {"p":8.8,"d":63.625,"r":65.8},{"p":8.8,"d":64.875,"r":66.3},{"p":8.8,"d":66.125,"r":66.9},{"p":8.8,"d":67.375,"r":67.5},{"p":8.8,"d":68.625,"r":68.0},{"p":8.8,"d":69.875,"r":68.6},{"p":8.8,"d":71.125,"r":69.2},{"p":8.8,"d":72.375,"r":69.7},{"p":8.8,"d":73.625,"r":70.3},{"p":8.8,"d":74.875,"r":70.9},{"p":8.8,"d":76.125,"r":71.5},{"p":8.8,"d":77.375,"r":72.0},{"p":8.8,"d":78.625,"r":72.6},{"p":8.8,"d":79.875,"r":73.2},{"p":8.8,"d":81.125,"r":73.7},{"p":8.8,"d":82.375,"r":74.3},{"p":8.8,"d":83.625,"r":74.9},{"p":8.8,"d":84.875,"r":75.4},{"p":8.8,"d":86.125,"r":76.0},{"p":8.8,"d":87.375,"r":76.6},
      {"p":8.9,"d":63.625,"r":67.3},{"p":8.9,"d":64.875,"r":67.8},{"p":8.9,"d":66.125,"r":68.4},{"p":8.9,"d":67.375,"r":68.9},{"p":8.9,"d":68.625,"r":69.4},{"p":8.9,"d":69.875,"r":70.0},{"p":8.9,"d":71.125,"r":70.5},{"p":8.9,"d":72.375,"r":71.1},{"p":8.9,"d":73.625,"r":71.6},{"p":8.9,"d":74.875,"r":72.1},{"p":8.9,"d":76.125,"r":72.7},{"p":8.9,"d":77.375,"r":73.2},{"p":8.9,"d":78.625,"r":73.7},{"p":8.9,"d":79.875,"r":74.3},{"p":8.9,"d":81.125,"r":74.8},{"p":8.9,"d":82.375,"r":75.3},{"p":8.9,"d":83.625,"r":75.9},{"p":8.9,"d":84.875,"r":76.4},{"p":8.9,"d":86.125,"r":76.9},{"p":8.9,"d":87.375,"r":77.5},
      {"p":9.0,"d":63.625,"r":68.8},{"p":9.0,"d":64.875,"r":69.3},{"p":9.0,"d":66.125,"r":69.8},{"p":9.0,"d":67.375,"r":70.3},{"p":9.0,"d":68.625,"r":70.8},{"p":9.0,"d":69.875,"r":71.3},{"p":9.0,"d":71.125,"r":71.8},{"p":9.0,"d":72.375,"r":72.3},{"p":9.0,"d":73.625,"r":72.8},{"p":9.0,"d":74.875,"r":73.3},{"p":9.0,"d":76.125,"r":73.8},{"p":9.0,"d":77.375,"r":74.3},{"p":9.0,"d":78.625,"r":74.8},{"p":9.0,"d":79.875,"r":75.3},{"p":9.0,"d":81.125,"r":75.8},{"p":9.0,"d":82.375,"r":76.3},{"p":9.0,"d":83.625,"r":76.8},{"p":9.0,"d":84.875,"r":77.3},{"p":9.0,"d":86.125,"r":77.8},{"p":9.0,"d":87.375,"r":78.3},
      {"p":9.1,"d":63.625,"r":70.2},{"p":9.1,"d":64.875,"r":70.7},{"p":9.1,"d":66.125,"r":71.1},{"p":9.1,"d":67.375,"r":71.6},{"p":9.1,"d":68.625,"r":72.1},{"p":9.1,"d":69.875,"r":72.6},{"p":9.1,"d":71.125,"r":73.0},{"p":9.1,"d":72.375,"r":73.5},{"p":9.1,"d":73.625,"r":74.0},{"p":9.1,"d":74.875,"r":74.4},{"p":9.1,"d":76.125,"r":74.9},{"p":9.1,"d":77.375,"r":75.4},{"p":9.1,"d":78.625,"r":75.8},{"p":9.1,"d":79.875,"r":76.3},{"p":9.1,"d":81.125,"r":76.8},{"p":9.1,"d":82.375,"r":77.2},{"p":9.1,"d":83.625,"r":77.7},{"p":9.1,"d":84.875,"r":78.2},{"p":9.1,"d":86.125,"r":78.6},{"p":9.1,"d":87.375,"r":79.1},
      {"p":9.2,"d":63.625,"r":71.6},{"p":9.2,"d":64.875,"r":72.0},{"p":9.2,"d":66.125,"r":72.4},{"p":9.2,"d":67.375,"r":72.9},{"p":9.2,"d":68.625,"r":73.3},{"p":9.2,"d":69.875,"r":73.7},{"p":9.2,"d":71.125,"r":74.2},{"p":9.2,"d":72.375,"r":74.6},{"p":9.2,"d":73.625,"r":75.1},{"p":9.2,"d":74.875,"r":75.5},{"p":9.2,"d":76.125,"r":75.9},{"p":9.2,"d":77.375,"r":76.4},{"p":9.2,"d":78.625,"r":76.8},{"p":9.2,"d":79.875,"r":77.2},{"p":9.2,"d":81.125,"r":77.7},{"p":9.2,"d":82.375,"r":78.1},{"p":9.2,"d":83.625,"r":78.5},{"p":9.2,"d":84.875,"r":79.0},{"p":9.2,"d":86.125,"r":79.4},{"p":9.2,"d":87.375,"r":79.8},
      {"p":9.3,"d":63.625,"r":72.9},{"p":9.3,"d":64.875,"r":73.3},{"p":9.3,"d":66.125,"r":73.7},{"p":9.3,"d":67.375,"r":74.1},{"p":9.3,"d":68.625,"r":74.5},{"p":9.3,"d":69.875,"r":74.9},{"p":9.3,"d":71.125,"r":75.3},{"p":9.3,"d":72.375,"r":75.7},{"p":9.3,"d":73.625,"r":76.1},{"p":9.3,"d":74.875,"r":76.5},{"p":9.3,"d":76.125,"r":76.9},{"p":9.3,"d":77.375,"r":77.3},{"p":9.3,"d":78.625,"r":77.7},{"p":9.3,"d":79.875,"r":78.1},{"p":9.3,"d":81.125,"r":78.5},{"p":9.3,"d":82.375,"r":78.9},{"p":9.3,"d":83.625,"r":79.3},{"p":9.3,"d":84.875,"r":79.7},{"p":9.3,"d":86.125,"r":80.1},{"p":9.3,"d":87.375,"r":80.5},
      {"p":9.4,"d":63.625,"r":74.1},{"p":9.4,"d":64.875,"r":74.5},{"p":9.4,"d":66.125,"r":74.9},{"p":9.4,"d":67.375,"r":75.2},{"p":9.4,"d":68.625,"r":75.6},{"p":9.4,"d":69.875,"r":76.0},{"p":9.4,"d":71.125,"r":76.3},{"p":9.4,"d":72.375,"r":76.7},{"p":9.4,"d":73.625,"r":77.1},{"p":9.4,"d":74.875,"r":77.4},{"p":9.4,"d":76.125,"r":77.8},{"p":9.4,"d":77.375,"r":78.2},{"p":9.4,"d":78.625,"r":78.5},{"p":9.4,"d":79.875,"r":78.9},{"p":9.4,"d":81.125,"r":79.3},{"p":9.4,"d":82.375,"r":79.7},{"p":9.4,"d":83.625,"r":80.0},{"p":9.4,"d":84.875,"r":80.4},{"p":9.4,"d":86.125,"r":80.8},{"p":9.4,"d":87.375,"r":81.1},
      {"p":9.5,"d":63.625,"r":75.3},{"p":9.5,"d":64.875,"r":75.7},{"p":9.5,"d":66.125,"r":76.0},{"p":9.5,"d":67.375,"r":76.3},{"p":9.5,"d":68.625,"r":76.7},{"p":9.5,"d":69.875,"r":77.0},{"p":9.5,"d":71.125,"r":77.3},{"p":9.5,"d":72.375,"r":77.7},{"p":9.5,"d":73.625,"r":78.0},{"p":9.5,"d":74.875,"r":78.3},{"p":9.5,"d":76.125,"r":78.7},{"p":9.5,"d":77.375,"r":79.0},{"p":9.5,"d":78.625,"r":79.3},{"p":9.5,"d":79.875,"r":79.7},{"p":9.5,"d":81.125,"r":80.0},{"p":9.5,"d":82.375,"r":80.3},{"p":9.5,"d":83.625,"r":80.7},{"p":9.5,"d":84.875,"r":81.0},{"p":9.5,"d":86.125,"r":81.4},{"p":9.5,"d":87.375,"r":81.7},
      {"p":9.6,"d":63.625,"r":76.5},{"p":9.6,"d":64.875,"r":76.8},{"p":9.6,"d":66.125,"r":77.1},{"p":9.6,"d":67.375,"r":77.4},{"p":9.6,"d":68.625,"r":77.7},{"p":9.6,"d":69.875,"r":78.0},{"p":9.6,"d":71.125,"r":78.3},{"p":9.6,"d":72.375,"r":78.6},{"p":9.6,"d":73.625,"r":78.9},{"p":9.6,"d":74.875,"r":79.2},{"p":9.6,"d":76.125,"r":79.5},{"p":9.6,"d":77.375,"r":79.8},{"p":9.6,"d":78.625,"r":80.1},{"p":9.6,"d":79.875,"r":80.4},{"p":9.6,"d":81.125,"r":80.7},{"p":9.6,"d":82.375,"r":81.0},{"p":9.6,"d":83.625,"r":81.3},{"p":9.6,"d":84.875,"r":81.6},{"p":9.6,"d":86.125,"r":81.9},{"p":9.6,"d":87.375,"r":82.2},
      {"p":9.7,"d":63.625,"r":77.5},{"p":9.7,"d":64.875,"r":77.8},{"p":9.7,"d":66.125,"r":78.1},{"p":9.7,"d":67.375,"r":78.3},{"p":9.7,"d":68.625,"r":78.6},{"p":9.7,"d":69.875,"r":78.9},{"p":9.7,"d":71.125,"r":79.1},{"p":9.7,"d":72.375,"r":79.4},{"p":9.7,"d":73.625,"r":79.7},{"p":9.7,"d":74.875,"r":79.9},{"p":9.7,"d":76.125,"r":80.2},{"p":9.7,"d":77.375,"r":80.5},{"p":9.7,"d":78.625,"r":80.7},{"p":9.7,"d":79.875,"r":81.0},{"p":9.7,"d":81.125,"r":81.3},{"p":9.7,"d":82.375,"r":81.5},{"p":9.7,"d":83.625,"r":81.8},{"p":9.7,"d":84.875,"r":82.1},{"p":9.7,"d":86.125,"r":82.4},{"p":9.7,"d":87.375,"r":82.6},
      {"p":9.8,"d":63.625,"r":78.5},{"p":9.8,"d":64.875,"r":78.8},{"p":9.8,"d":66.125,"r":79.0},{"p":9.8,"d":67.375,"r":79.2},{"p":9.8,"d":68.625,"r":79.5},{"p":9.8,"d":69.875,"r":79.7},{"p":9.8,"d":71.125,"r":80.0},{"p":9.8,"d":72.375,"r":80.2},{"p":9.8,"d":73.625,"r":80.4},{"p":9.8,"d":74.875,"r":80.7},{"p":9.8,"d":76.125,"r":80.9},{"p":9.8,"d":77.375,"r":81.1},{"p":9.8,"d":78.625,"r":81.4},{"p":9.8,"d":79.875,"r":81.6},{"p":9.8,"d":81.125,"r":81.8},{"p":9.8,"d":82.375,"r":82.1},{"p":9.8,"d":83.625,"r":82.3},{"p":9.8,"d":84.875,"r":82.5},{"p":9.8,"d":86.125,"r":82.8},{"p":9.8,"d":87.375,"r":83.0},
      {"p":9.9,"d":63.625,"r":79.5},{"p":9.9,"d":64.875,"r":79.7},{"p":9.9,"d":66.125,"r":79.9},{"p":9.9,"d":67.375,"r":80.1},{"p":9.9,"d":68.625,"r":80.3},{"p":9.9,"d":69.875,"r":80.5},{"p":9.9,"d":71.125,"r":80.7},{"p":9.9,"d":72.375,"r":80.9},{"p":9.9,"d":73.625,"r":81.1},{"p":9.9,"d":74.875,"r":81.3},{"p":9.9,"d":76.125,"r":81.5},{"p":9.9,"d":77.375,"r":81.7},{"p":9.9,"d":78.625,"r":81.9},{"p":9.9,"d":79.875,"r":82.1},{"p":9.9,"d":81.125,"r":82.3},{"p":9.9,"d":82.375,"r":82.5},{"p":9.9,"d":83.625,"r":82.7},{"p":9.9,"d":84.875,"r":82.9},{"p":9.9,"d":86.125,"r":83.1},{"p":9.9,"d":87.375,"r":83.3},
      {"p":10.0,"d":63.625,"r":80.4},{"p":10.0,"d":64.875,"r":80.6},{"p":10.0,"d":66.125,"r":80.7},{"p":10.0,"d":67.375,"r":80.9},{"p":10.0,"d":68.625,"r":81.1},{"p":10.0,"d":69.875,"r":81.2},{"p":10.0,"d":71.125,"r":81.4},{"p":10.0,"d":72.375,"r":81.6},{"p":10.0,"d":73.625,"r":81.7},{"p":10.0,"d":74.875,"r":81.9},{"p":10.0,"d":76.125,"r":82.1},{"p":10.0,"d":77.375,"r":82.3},{"p":10.0,"d":78.625,"r":82.4},{"p":10.0,"d":79.875,"r":82.6},{"p":10.0,"d":81.125,"r":82.8},{"p":10.0,"d":82.375,"r":82.9},{"p":10.0,"d":83.625,"r":83.1},{"p":10.0,"d":84.875,"r":83.3},{"p":10.0,"d":86.125,"r":83.4},{"p":10.0,"d":87.375,"r":83.6},
      {"p":10.1,"d":63.625,"r":81.3},{"p":10.1,"d":64.875,"r":81.4},{"p":10.1,"d":66.125,"r":81.5},{"p":10.1,"d":67.375,"r":81.7},{"p":10.1,"d":68.625,"r":81.8},{"p":10.1,"d":69.875,"r":81.9},{"p":10.1,"d":71.125,"r":82.1},{"p":10.1,"d":72.375,"r":82.2},{"p":10.1,"d":73.625,"r":82.3},{"p":10.1,"d":74.875,"r":82.5},{"p":10.1,"d":76.125,"r":82.6},{"p":10.1,"d":77.375,"r":82.7},{"p":10.1,"d":78.625,"r":82.9},{"p":10.1,"d":79.875,"r":83.0},{"p":10.1,"d":81.125,"r":83.1},{"p":10.1,"d":82.375,"r":83.3},{"p":10.1,"d":83.625,"r":83.4},{"p":10.1,"d":84.875,"r":83.5},{"p":10.1,"d":86.125,"r":83.7},{"p":10.1,"d":87.375,"r":83.8},
      {"p":10.2,"d":63.625,"r":82.0},{"p":10.2,"d":64.875,"r":82.1},{"p":10.2,"d":66.125,"r":82.2},{"p":10.2,"d":67.375,"r":82.3},{"p":10.2,"d":68.625,"r":82.4},{"p":10.2,"d":69.875,"r":82.5},{"p":10.2,"d":71.125,"r":82.6},{"p":10.2,"d":72.375,"r":82.7},{"p":10.2,"d":73.625,"r":82.8},{"p":10.2,"d":74.875,"r":82.9},{"p":10.2,"d":76.125,"r":83.0},{"p":10.2,"d":77.375,"r":83.1},{"p":10.2,"d":78.625,"r":83.2},{"p":10.2,"d":79.875,"r":83.3},{"p":10.2,"d":81.125,"r":83.4},{"p":10.2,"d":82.375,"r":83.5},{"p":10.2,"d":83.625,"r":83.6},{"p":10.2,"d":84.875,"r":83.7},{"p":10.2,"d":86.125,"r":83.8},{"p":10.2,"d":87.375,"r":83.9},
      {"p":10.3,"d":63.625,"r":82.8},{"p":10.3,"d":64.875,"r":82.8},{"p":10.3,"d":66.125,"r":82.9},{"p":10.3,"d":67.375,"r":83.0},{"p":10.3,"d":68.625,"r":83.0},{"p":10.3,"d":69.875,"r":83.1},{"p":10.3,"d":71.125,"r":83.2},{"p":10.3,"d":72.375,"r":83.2},{"p":10.3,"d":73.625,"r":83.3},{"p":10.3,"d":74.875,"r":83.4},{"p":10.3,"d":76.125,"r":83.4},{"p":10.3,"d":77.375,"r":83.5},{"p":10.3,"d":78.625,"r":83.6},{"p":10.3,"d":79.875,"r":83.6},{"p":10.3,"d":81.125,"r":83.7},{"p":10.3,"d":82.375,"r":83.8},{"p":10.3,"d":83.625,"r":83.8},{"p":10.3,"d":84.875,"r":83.9},{"p":10.3,"d":86.125,"r":84.0},{"p":10.3,"d":87.375,"r":84.0},
      {"p":10.4,"d":63.625,"r":83.4},{"p":10.4,"d":64.875,"r":83.5},{"p":10.4,"d":66.125,"r":83.5},{"p":10.4,"d":67.375,"r":83.5},{"p":10.4,"d":68.625,"r":83.6},{"p":10.4,"d":69.875,"r":83.6},{"p":10.4,"d":71.125,"r":83.6},{"p":10.4,"d":72.375,"r":83.7},{"p":10.4,"d":73.625,"r":83.7},{"p":10.4,"d":74.875,"r":83.7},{"p":10.4,"d":76.125,"r":83.8},{"p":10.4,"d":77.375,"r":83.8},{"p":10.4,"d":78.625,"r":83.8},{"p":10.4,"d":79.875,"r":83.9},{"p":10.4,"d":81.125,"r":83.9},{"p":10.4,"d":82.375,"r":83.9},{"p":10.4,"d":83.625,"r":84.0},{"p":10.4,"d":84.875,"r":84.0},{"p":10.4,"d":86.125,"r":84.0},{"p":10.4,"d":87.375,"r":84.1},
      {"p":10.5,"d":63.625,"r":84.05},{"p":10.5,"d":64.875,"r":84.05},{"p":10.5,"d":66.125,"r":84.05},{"p":10.5,"d":67.375,"r":84.05},{"p":10.5,"d":68.625,"r":84.05},{"p":10.5,"d":69.875,"r":84.05},{"p":10.5,"d":71.125,"r":84.05},{"p":10.5,"d":72.375,"r":84.05},{"p":10.5,"d":73.625,"r":84.05},{"p":10.5,"d":74.875,"r":84.05},{"p":10.5,"d":76.125,"r":84.05},{"p":10.5,"d":77.375,"r":84.05},{"p":10.5,"d":78.625,"r":84.05},{"p":10.5,"d":79.875,"r":84.05},{"p":10.5,"d":81.125,"r":84.05},{"p":10.5,"d":82.375,"r":84.05},{"p":10.5,"d":83.625,"r":84.05},{"p":10.5,"d":84.875,"r":84.05},{"p":10.5,"d":86.125,"r":84.05},{"p":10.5,"d":87.375,"r":84.05},
      {"p":10.6,"d":63.625,"r":84.6},{"p":10.6,"d":64.875,"r":84.6},{"p":10.6,"d":66.125,"r":84.5},{"p":10.6,"d":67.375,"r":84.5},{"p":10.6,"d":68.625,"r":84.5},{"p":10.6,"d":69.875,"r":84.4},{"p":10.6,"d":71.125,"r":84.4},{"p":10.6,"d":72.375,"r":84.4},{"p":10.6,"d":73.625,"r":84.3},{"p":10.6,"d":74.875,"r":84.3},{"p":10.6,"d":76.125,"r":84.3},{"p":10.6,"d":77.375,"r":84.2},{"p":10.6,"d":78.625,"r":84.2},{"p":10.6,"d":79.875,"r":84.2},{"p":10.6,"d":81.125,"r":84.1},{"p":10.6,"d":82.375,"r":84.1},{"p":10.6,"d":83.625,"r":84.1},{"p":10.6,"d":84.875,"r":84.0},{"p":10.6,"d":86.125,"r":84.0},{"p":10.6,"d":87.375,"r":84.0},
      {"p":10.7,"d":63.625,"r":85.1},{"p":10.7,"d":64.875,"r":85.0},{"p":10.7,"d":66.125,"r":85.0},{"p":10.7,"d":67.375,"r":84.9},{"p":10.7,"d":68.625,"r":84.8},{"p":10.7,"d":69.875,"r":84.8},{"p":10.7,"d":71.125,"r":84.7},{"p":10.7,"d":72.375,"r":84.6},{"p":10.7,"d":73.625,"r":84.6},{"p":10.7,"d":74.875,"r":84.5},{"p":10.7,"d":76.125,"r":84.4},{"p":10.7,"d":77.375,"r":84.4},{"p":10.7,"d":78.625,"r":84.3},{"p":10.7,"d":79.875,"r":84.2},{"p":10.7,"d":81.125,"r":84.2},{"p":10.7,"d":82.375,"r":84.1},{"p":10.7,"d":83.625,"r":84.0},{"p":10.7,"d":84.875,"r":84.0},{"p":10.7,"d":86.125,"r":83.9},{"p":10.7,"d":87.375,"r":83.8},
      {"p":10.8,"d":63.625,"r":85.5},{"p":10.8,"d":64.875,"r":85.4},{"p":10.8,"d":66.125,"r":85.3},{"p":10.8,"d":67.375,"r":85.2},{"p":10.8,"d":68.625,"r":85.1},{"p":10.8,"d":69.875,"r":85.0},{"p":10.8,"d":71.125,"r":84.9},{"p":10.8,"d":72.375,"r":84.8},{"p":10.8,"d":73.625,"r":84.7},{"p":10.8,"d":74.875,"r":84.6},{"p":10.8,"d":76.125,"r":84.5},{"p":10.8,"d":77.375,"r":84.4},{"p":10.8,"d":78.625,"r":84.3},{"p":10.8,"d":79.875,"r":84.2},{"p":10.8,"d":81.125,"r":84.1},{"p":10.8,"d":82.375,"r":84.0},{"p":10.8,"d":83.625,"r":83.9},{"p":10.8,"d":84.875,"r":83.8},{"p":10.8,"d":86.125,"r":83.7},{"p":10.8,"d":87.375,"r":83.6},
      {"p":10.9,"d":63.625,"r":85.9},{"p":10.9,"d":64.875,"r":85.8},{"p":10.9,"d":66.125,"r":85.7},{"p":10.9,"d":67.375,"r":85.5},{"p":10.9,"d":68.625,"r":85.4},{"p":10.9,"d":69.875,"r":85.3},{"p":10.9,"d":71.125,"r":85.1},{"p":10.9,"d":72.375,"r":85.0},{"p":10.9,"d":73.625,"r":84.8},{"p":10.9,"d":74.875,"r":84.7},{"p":10.9,"d":76.125,"r":84.6},{"p":10.9,"d":77.375,"r":84.4},{"p":10.9,"d":78.625,"r":84.3},{"p":10.9,"d":79.875,"r":84.2},{"p":10.9,"d":81.125,"r":84.0},{"p":10.9,"d":82.375,"r":83.9},{"p":10.9,"d":83.625,"r":83.8},{"p":10.9,"d":84.875,"r":83.6},{"p":10.9,"d":86.125,"r":83.5},{"p":10.9,"d":87.375,"r":83.4},
      {"p":11.0,"d":63.625,"r":86.2},{"p":11.0,"d":64.875,"r":86.1},{"p":11.0,"d":66.125,"r":85.9},{"p":11.0,"d":67.375,"r":85.7},{"p":11.0,"d":68.625,"r":85.6},{"p":11.0,"d":69.875,"r":85.4},{"p":11.0,"d":71.125,"r":85.2},{"p":11.0,"d":72.375,"r":85.1},{"p":11.0,"d":73.625,"r":84.9},{"p":11.0,"d":74.875,"r":84.7},{"p":11.0,"d":76.125,"r":84.6},{"p":11.0,"d":77.375,"r":84.4},{"p":11.0,"d":78.625,"r":84.2},{"p":11.0,"d":79.875,"r":84.1},{"p":11.0,"d":81.125,"r":83.9},{"p":11.0,"d":82.375,"r":83.7},{"p":11.0,"d":83.625,"r":83.6},{"p":11.0,"d":84.875,"r":83.4},{"p":11.0,"d":86.125,"r":83.2},{"p":11.0,"d":87.375,"r":83.1},
      {"p":11.1,"d":63.625,"r":86.5},{"p":11.1,"d":64.875,"r":86.3},{"p":11.1,"d":66.125,"r":86.1},{"p":11.1,"d":67.375,"r":85.9},{"p":11.1,"d":68.625,"r":85.7},{"p":11.1,"d":69.875,"r":85.5},{"p":11.1,"d":71.125,"r":85.3},{"p":11.1,"d":72.375,"r":85.1},{"p":11.1,"d":73.625,"r":84.9},{"p":11.1,"d":74.875,"r":84.7},{"p":11.1,"d":76.125,"r":84.5},{"p":11.1,"d":77.375,"r":84.3},{"p":11.1,"d":78.625,"r":84.1},{"p":11.1,"d":79.875,"r":83.9},{"p":11.1,"d":81.125,"r":83.7},{"p":11.1,"d":82.375,"r":83.5},{"p":11.1,"d":83.625,"r":83.3},{"p":11.1,"d":84.875,"r":83.1},{"p":11.1,"d":86.125,"r":82.9},{"p":11.1,"d":87.375,"r":82.7},
      {"p":11.2,"d":63.625,"r":86.7},{"p":11.2,"d":64.875,"r":86.5},{"p":11.2,"d":66.125,"r":86.2},{"p":11.2,"d":67.375,"r":86.0},{"p":11.2,"d":68.625,"r":85.8},{"p":11.2,"d":69.875,"r":85.5},{"p":11.2,"d":71.125,"r":85.3},{"p":11.2,"d":72.375,"r":85.1},{"p":11.2,"d":73.625,"r":84.8},{"p":11.2,"d":74.875,"r":84.6},{"p":11.2,"d":76.125,"r":84.4},{"p":11.2,"d":77.375,"r":84.1},{"p":11.2,"d":78.625,"r":83.9},{"p":11.2,"d":79.875,"r":83.7},{"p":11.2,"d":81.125,"r":83.4},{"p":11.2,"d":82.375,"r":83.2},{"p":11.2,"d":83.625,"r":83.0},{"p":11.2,"d":84.875,"r":82.7},{"p":11.2,"d":86.125,"r":82.5},{"p":11.2,"d":87.375,"r":82.3},
      {"p":11.3,"d":63.625,"r":86.9},{"p":11.3,"d":64.875,"r":86.6},{"p":11.3,"d":66.125,"r":86.3},{"p":11.3,"d":67.375,"r":86.1},{"p":11.3,"d":68.625,"r":85.8},{"p":11.3,"d":69.875,"r":85.5},{"p":11.3,"d":71.125,"r":85.3},{"p":11.3,"d":72.375,"r":85.0},{"p":11.3,"d":73.625,"r":84.7},{"p":11.3,"d":74.875,"r":84.5},{"p":11.3,"d":76.125,"r":84.2},{"p":11.3,"d":77.375,"r":83.9},{"p":11.3,"d":78.625,"r":83.6},{"p":11.3,"d":79.875,"r":83.4},{"p":11.3,"d":81.125,"r":83.1},{"p":11.3,"d":82.375,"r":82.8},{"p":11.3,"d":83.625,"r":82.6},{"p":11.3,"d":84.875,"r":82.3},{"p":11.3,"d":86.125,"r":82.0},{"p":11.3,"d":87.375,"r":81.8},
      {"p":11.4,"d":63.625,"r":87.0},{"p":11.4,"d":64.875,"r":86.6},{"p":11.4,"d":66.125,"r":86.3},{"p":11.4,"d":67.375,"r":86.0},{"p":11.4,"d":68.625,"r":85.7},{"p":11.4,"d":69.875,"r":85.4},{"p":11.4,"d":71.125,"r":85.1},{"p":11.4,"d":72.375,"r":84.8},{"p":11.4,"d":73.625,"r":84.5},{"p":11.4,"d":74.875,"r":84.2},{"p":11.4,"d":76.125,"r":83.9},{"p":11.4,"d":77.375,"r":83.6},{"p":11.4,"d":78.625,"r":83.3},{"p":11.4,"d":79.875,"r":83.0},{"p":11.4,"d":81.125,"r":82.7},{"p":11.4,"d":82.375,"r":82.4},{"p":11.4,"d":83.625,"r":82.1},{"p":11.4,"d":84.875,"r":81.8},{"p":11.4,"d":86.125,"r":81.5},{"p":11.4,"d":87.375,"r":81.2},
      {"p":11.5,"d":63.625,"r":87.0},{"p":11.5,"d":64.875,"r":86.6},{"p":11.5,"d":66.125,"r":86.3},{"p":11.5,"d":67.375,"r":86.0},{"p":11.5,"d":68.625,"r":85.6},{"p":11.5,"d":69.875,"r":85.3},{"p":11.5,"d":71.125,"r":85.0},{"p":11.5,"d":72.375,"r":84.6},{"p":11.5,"d":73.625,"r":84.3},{"p":11.5,"d":74.875,"r":84.0},{"p":11.5,"d":76.125,"r":83.6},{"p":11.5,"d":77.375,"r":83.3},{"p":11.5,"d":78.625,"r":83.0},{"p":11.5,"d":79.875,"r":82.6},{"p":11.5,"d":81.125,"r":82.3},{"p":11.5,"d":82.375,"r":82.0},{"p":11.5,"d":83.625,"r":81.6},{"p":11.5,"d":84.875,"r":81.3},{"p":11.5,"d":86.125,"r":81.0},{"p":11.5,"d":87.375,"r":80.6},
      {"p":11.6,"d":63.625,"r":87.0},{"p":11.6,"d":64.875,"r":86.6},{"p":11.6,"d":66.125,"r":86.2},{"p":11.6,"d":67.375,"r":85.9},{"p":11.6,"d":68.625,"r":85.5},{"p":11.6,"d":69.875,"r":85.1},{"p":11.6,"d":71.125,"r":84.7},{"p":11.6,"d":72.375,"r":84.4},{"p":11.6,"d":73.625,"r":84.0},{"p":11.6,"d":74.875,"r":83.6},{"p":11.6,"d":76.125,"r":83.3},{"p":11.6,"d":77.375,"r":82.9},{"p":11.6,"d":78.625,"r":82.5},{"p":11.6,"d":79.875,"r":82.2},{"p":11.6,"d":81.125,"r":81.8},{"p":11.6,"d":82.375,"r":81.4},{"p":11.6,"d":83.625,"r":81.1},{"p":11.6,"d":84.875,"r":80.7},{"p":11.6,"d":86.125,"r":80.3},{"p":11.6,"d":87.375,"r":80.0},
      {"p":11.7,"d":63.625,"r":86.9},{"p":11.7,"d":64.875,"r":86.5},{"p":11.7,"d":66.125,"r":86.1},{"p":11.7,"d":67.375,"r":85.7},{"p":11.7,"d":68.625,"r":85.3},{"p":11.7,"d":69.875,"r":84.9},{"p":11.7,"d":71.125,"r":84.5},{"p":11.7,"d":72.375,"r":84.1},{"p":11.7,"d":73.625,"r":83.7},{"p":11.7,"d":74.875,"r":83.3},{"p":11.7,"d":76.125,"r":82.9},{"p":11.7,"d":77.375,"r":82.5},{"p":11.7,"d":78.625,"r":82.1},{"p":11.7,"d":79.875,"r":81.6},{"p":11.7,"d":81.125,"r":81.2},{"p":11.7,"d":82.375,"r":80.8},{"p":11.7,"d":83.625,"r":80.4},{"p":11.7,"d":84.875,"r":80.0},{"p":11.7,"d":86.125,"r":79.6},{"p":11.7,"d":87.375,"r":79.2},
      {"p":11.8,"d":63.625,"r":86.7},{"p":11.8,"d":64.875,"r":86.3},{"p":11.8,"d":66.125,"r":85.9},{"p":11.8,"d":67.375,"r":85.4},{"p":11.8,"d":68.625,"r":85.0},{"p":11.8,"d":69.875,"r":84.6},{"p":11.8,"d":71.125,"r":84.1},{"p":11.8,"d":72.375,"r":83.7},{"p":11.8,"d":73.625,"r":83.2},{"p":11.8,"d":74.875,"r":82.8},{"p":11.8,"d":76.125,"r":82.4},{"p":11.8,"d":77.375,"r":81.9},{"p":11.8,"d":78.625,"r":81.5},{"p":11.8,"d":79.875,"r":81.1},{"p":11.8,"d":81.125,"r":80.6},{"p":11.8,"d":82.375,"r":80.2},{"p":11.8,"d":83.625,"r":79.8},{"p":11.8,"d":84.875,"r":79.3},{"p":11.8,"d":86.125,"r":78.9},{"p":11.8,"d":87.375,"r":78.5},
      {"p":11.9,"d":63.625,"r":86.5},{"p":11.9,"d":64.875,"r":86.1},{"p":11.9,"d":66.125,"r":85.6},{"p":11.9,"d":67.375,"r":85.1},{"p":11.9,"d":68.625,"r":84.7},{"p":11.9,"d":69.875,"r":84.2},{"p":11.9,"d":71.125,"r":83.7},{"p":11.9,"d":72.375,"r":83.3},{"p":11.9,"d":73.625,"r":82.8},{"p":11.9,"d":74.875,"r":82.3},{"p":11.9,"d":76.125,"r":81.8},{"p":11.9,"d":77.375,"r":81.4},{"p":11.9,"d":78.625,"r":80.9},{"p":11.9,"d":79.875,"r":80.4},{"p":11.9,"d":81.125,"r":80.0},{"p":11.9,"d":82.375,"r":79.5},{"p":11.9,"d":83.625,"r":79.0},{"p":11.9,"d":84.875,"r":78.6},{"p":11.9,"d":86.125,"r":78.1},{"p":11.9,"d":87.375,"r":77.6},
      {"p":12.0,"d":63.625,"r":86.3},{"p":12.0,"d":64.875,"r":85.8},{"p":12.0,"d":66.125,"r":85.3},{"p":12.0,"d":67.375,"r":84.8},{"p":12.0,"d":68.625,"r":84.3},{"p":12.0,"d":69.875,"r":83.8},{"p":12.0,"d":71.125,"r":83.3},{"p":12.0,"d":72.375,"r":82.8},{"p":12.0,"d":73.625,"r":82.3},{"p":12.0,"d":74.875,"r":81.8},{"p":12.0,"d":76.125,"r":81.3},{"p":12.0,"d":77.375,"r":80.8},{"p":12.0,"d":78.625,"r":80.2},{"p":12.0,"d":79.875,"r":79.7},{"p":12.0,"d":81.125,"r":79.2},{"p":12.0,"d":82.375,"r":78.7},{"p":12.0,"d":83.625,"r":78.2},{"p":12.0,"d":84.875,"r":77.7},{"p":12.0,"d":86.125,"r":77.2},{"p":12.0,"d":87.375,"r":76.7},
      {"p":12.1,"d":63.625,"r":86.0},{"p":12.1,"d":64.875,"r":85.4},{"p":12.1,"d":66.125,"r":84.9},{"p":12.1,"d":67.375,"r":84.4},{"p":12.1,"d":68.625,"r":83.8},{"p":12.1,"d":69.875,"r":83.3},{"p":12.1,"d":71.125,"r":82.7},{"p":12.1,"d":72.375,"r":82.2},{"p":12.1,"d":73.625,"r":81.7},{"p":12.1,"d":74.875,"r":81.1},{"p":12.1,"d":76.125,"r":80.6},{"p":12.1,"d":77.375,"r":80.1},{"p":12.1,"d":78.625,"r":79.5},{"p":12.1,"d":79.875,"r":79.0},{"p":12.1,"d":81.125,"r":78.5},{"p":12.1,"d":82.375,"r":77.9},{"p":12.1,"d":83.625,"r":77.4},{"p":12.1,"d":84.875,"r":76.8},{"p":12.1,"d":86.125,"r":76.3},{"p":12.1,"d":87.375,"r":75.8},
      {"p":12.2,"d":63.625,"r":85.6},{"p":12.2,"d":64.875,"r":85.0},{"p":12.2,"d":66.125,"r":84.4},{"p":12.2,"d":67.375,"r":83.9},{"p":12.2,"d":68.625,"r":83.3},{"p":12.2,"d":69.875,"r":82.7},{"p":12.2,"d":71.125,"r":82.2},{"p":12.2,"d":72.375,"r":81.6},{"p":12.2,"d":73.625,"r":81.0},{"p":12.2,"d":74.875,"r":80.5},{"p":12.2,"d":76.125,"r":79.9},{"p":12.2,"d":77.375,"r":79.3},{"p":12.2,"d":78.625,"r":78.8},{"p":12.2,"d":79.875,"r":78.2},{"p":12.2,"d":81.125,"r":77.6},{"p":12.2,"d":82.375,"r":77.0},{"p":12.2,"d":83.625,"r":76.5},{"p":12.2,"d":84.875,"r":75.9},{"p":12.2,"d":86.125,"r":75.3},{"p":12.2,"d":87.375,"r":74.8},
      {"p":12.3,"d":63.625,"r":85.2},{"p":12.3,"d":64.875,"r":84.5},{"p":12.3,"d":66.125,"r":83.9},{"p":12.3,"d":67.375,"r":83.3},{"p":12.3,"d":68.625,"r":82.7},{"p":12.3,"d":69.875,"r":82.1},{"p":12.3,"d":71.125,"r":81.5},{"p":12.3,"d":72.375,"r":80.9},{"p":12.3,"d":73.625,"r":80.3},{"p":12.3,"d":74.875,"r":79.7},{"p":12.3,"d":76.125,"r":79.1},{"p":12.3,"d":77.375,"r":78.5},{"p":12.3,"d":78.625,"r":77.9},{"p":12.3,"d":79.875,"r":77.3},{"p":12.3,"d":81.125,"r":76.7},{"p":12.3,"d":82.375,"r":76.1},{"p":12.3,"d":83.625,"r":75.5},{"p":12.3,"d":84.875,"r":74.9},{"p":12.3,"d":86.125,"r":74.3},{"p":12.3,"d":87.375,"r":73.7},
      {"p":12.4,"d":63.625,"r":84.7},{"p":12.4,"d":64.875,"r":84.0},{"p":12.4,"d":66.125,"r":83.4},{"p":12.4,"d":67.375,"r":82.8},{"p":12.4,"d":68.625,"r":82.1},{"p":12.4,"d":69.875,"r":81.5},{"p":12.4,"d":71.125,"r":80.8},{"p":12.4,"d":72.375,"r":80.2},{"p":12.4,"d":73.625,"r":79.6},{"p":12.4,"d":74.875,"r":78.9},{"p":12.4,"d":76.125,"r":78.3},{"p":12.4,"d":77.375,"r":77.7},{"p":12.4,"d":78.625,"r":77.0},{"p":12.4,"d":79.875,"r":76.4},{"p":12.4,"d":81.125,"r":75.8},{"p":12.4,"d":82.375,"r":75.1},{"p":12.4,"d":83.625,"r":74.5},{"p":12.4,"d":84.875,"r":73.8},{"p":12.4,"d":86.125,"r":73.2},{"p":12.4,"d":87.375,"r":72.6},
      {"p":12.5,"d":63.625,"r":84.1},{"p":12.5,"d":64.875,"r":83.4},{"p":12.5,"d":66.125,"r":82.8},{"p":12.5,"d":67.375,"r":82.1},{"p":12.5,"d":68.625,"r":81.4},{"p":12.5,"d":69.875,"r":80.8},{"p":12.5,"d":71.125,"r":80.1},{"p":12.5,"d":72.375,"r":79.4},{"p":12.5,"d":73.625,"r":78.8},{"p":12.5,"d":74.875,"r":78.1},{"p":12.5,"d":76.125,"r":77.4},{"p":12.5,"d":77.375,"r":76.8},{"p":12.5,"d":78.625,"r":76.1},{"p":12.5,"d":79.875,"r":75.4},{"p":12.5,"d":81.125,"r":74.7},{"p":12.5,"d":82.375,"r":74.1},{"p":12.5,"d":83.625,"r":73.4},{"p":12.5,"d":84.875,"r":72.7},{"p":12.5,"d":86.125,"r":72.1},{"p":12.5,"d":87.375,"r":71.4}
    ],
    "half": [
      {"p":8.5,"d":63,"r":60.5},{"p":8.5,"d":64.25,"r":61.1},{"p":8.5,"d":65.5,"r":61.8},{"p":8.5,"d":66.75,"r":62.5},{"p":8.5,"d":68,"r":63.1},{"p":8.5,"d":69.25,"r":63.8},{"p":8.5,"d":70.5,"r":64.5},{"p":8.5,"d":71.75,"r":65.1},{"p":8.5,"d":73,"r":65.8},{"p":8.5,"d":74.25,"r":66.5},{"p":8.5,"d":75.5,"r":67.2},{"p":8.5,"d":76.75,"r":67.8},{"p":8.5,"d":78,"r":68.5},{"p":8.5,"d":79.25,"r":69.2},{"p":8.5,"d":80.5,"r":69.8},{"p":8.5,"d":81.75,"r":70.5},{"p":8.5,"d":83,"r":71.2},{"p":8.5,"d":84.25,"r":71.8},{"p":8.5,"d":85.5,"r":72.5},{"p":8.5,"d":86.75,"r":73.2},{"p":8.5,"d":88,"r":73.9},
      {"p":8.55,"d":63,"r":61.3},{"p":8.55,"d":64.25,"r":62.0},{"p":8.55,"d":65.5,"r":62.6},{"p":8.55,"d":66.75,"r":63.3},{"p":8.55,"d":68,"r":63.9},{"p":8.55,"d":69.25,"r":64.6},{"p":8.55,"d":70.5,"r":65.2},{"p":8.55,"d":71.75,"r":65.9},{"p":8.55,"d":73,"r":66.5},{"p":8.55,"d":74.25,"r":67.2},{"p":8.55,"d":75.5,"r":67.9},{"p":8.55,"d":76.75,"r":68.5},{"p":8.55,"d":78,"r":69.2},{"p":8.55,"d":79.25,"r":69.8},{"p":8.55,"d":80.5,"r":70.5},{"p":8.55,"d":81.75,"r":71.1},{"p":8.55,"d":83,"r":71.8},{"p":8.55,"d":84.25,"r":72.4},{"p":8.55,"d":85.5,"r":73.1},{"p":8.55,"d":86.75,"r":73.7},{"p":8.55,"d":88,"r":74.4},
      {"p":8.6,"d":63,"r":62.2},{"p":8.6,"d":64.25,"r":62.8},{"p":8.6,"d":65.5,"r":63.5},{"p":8.6,"d":66.75,"r":64.1},{"p":8.6,"d":68,"r":64.7},{"p":8.6,"d":69.25,"r":65.4},{"p":8.6,"d":70.5,"r":66.0},{"p":8.6,"d":71.75,"r":66.6},{"p":8.6,"d":73,"r":67.3},{"p":8.6,"d":74.25,"r":67.9},{"p":8.6,"d":75.5,"r":68.5},{"p":8.6,"d":76.75,"r":69.2},{"p":8.6,"d":78,"r":69.8},{"p":8.6,"d":79.25,"r":70.5},{"p":8.6,"d":80.5,"r":71.1},{"p":8.6,"d":81.75,"r":71.7},{"p":8.6,"d":83,"r":72.4},{"p":8.6,"d":84.25,"r":73.0},{"p":8.6,"d":85.5,"r":73.6},{"p":8.6,"d":86.75,"r":74.3},{"p":8.6,"d":88,"r":74.9},
      {"p":8.65,"d":63,"r":63.0},{"p":8.65,"d":64.25,"r":63.6},{"p":8.65,"d":65.5,"r":64.3},{"p":8.65,"d":66.75,"r":64.9},{"p":8.65,"d":68,"r":65.5},{"p":8.65,"d":69.25,"r":66.1},{"p":8.65,"d":70.5,"r":66.7},{"p":8.65,"d":71.75,"r":67.4},{"p":8.65,"d":73,"r":68.0},{"p":8.65,"d":74.25,"r":68.6},{"p":8.65,"d":75.5,"r":69.2},{"p":8.65,"d":76.75,"r":69.8},{"p":8.65,"d":78,"r":70.5},{"p":8.65,"d":79.25,"r":71.1},{"p":8.65,"d":80.5,"r":71.7},{"p":8.65,"d":81.75,"r":72.3},{"p":8.65,"d":83,"r":72.9},{"p":8.65,"d":84.25,"r":73.6},{"p":8.65,"d":85.5,"r":74.2},{"p":8.65,"d":86.75,"r":74.8},{"p":8.65,"d":88,"r":75.4},
      {"p":8.7,"d":63,"r":63.9},{"p":8.7,"d":64.25,"r":64.5},{"p":8.7,"d":65.5,"r":65.1},{"p":8.7,"d":66.75,"r":65.7},{"p":8.7,"d":68,"r":66.3},{"p":8.7,"d":69.25,"r":66.9},{"p":8.7,"d":70.5,"r":67.5},{"p":8.7,"d":71.75,"r":68.1},{"p":8.7,"d":73,"r":68.7},{"p":8.7,"d":74.25,"r":69.3},{"p":8.7,"d":75.5,"r":69.9},{"p":8.7,"d":76.75,"r":70.5},{"p":8.7,"d":78,"r":71.1},{"p":8.7,"d":79.25,"r":71.7},{"p":8.7,"d":80.5,"r":72.3},{"p":8.7,"d":81.75,"r":72.9},{"p":8.7,"d":83,"r":73.5},{"p":8.7,"d":84.25,"r":74.1},{"p":8.7,"d":85.5,"r":74.7},{"p":8.7,"d":86.75,"r":75.3},{"p":8.7,"d":88,"r":75.9},
      {"p":8.75,"d":63,"r":64.7},{"p":8.75,"d":64.25,"r":65.3},{"p":8.75,"d":65.5,"r":65.8},{"p":8.75,"d":66.75,"r":66.4},{"p":8.75,"d":68,"r":67.0},{"p":8.75,"d":69.25,"r":67.6},{"p":8.75,"d":70.5,"r":68.2},{"p":8.75,"d":71.75,"r":68.8},{"p":8.75,"d":73,"r":69.4},{"p":8.75,"d":74.25,"r":69.9},{"p":8.75,"d":75.5,"r":70.5},{"p":8.75,"d":76.75,"r":71.1},{"p":8.75,"d":78,"r":71.7},{"p":8.75,"d":79.25,"r":72.3},{"p":8.75,"d":80.5,"r":72.9},{"p":8.75,"d":81.75,"r":73.5},{"p":8.75,"d":83,"r":74.0},{"p":8.75,"d":84.25,"r":74.6},{"p":8.75,"d":85.5,"r":75.2},{"p":8.75,"d":86.75,"r":75.8},{"p":8.75,"d":88,"r":76.4},
      {"p":8.8,"d":63,"r":65.5},{"p":8.8,"d":64.25,"r":66.0},{"p":8.8,"d":65.5,"r":66.6},{"p":8.8,"d":66.75,"r":67.2},{"p":8.8,"d":68,"r":67.8},{"p":8.8,"d":69.25,"r":68.3},{"p":8.8,"d":70.5,"r":68.9},{"p":8.8,"d":71.75,"r":69.5},{"p":8.8,"d":73,"r":70.0},{"p":8.8,"d":74.25,"r":70.6},{"p":8.8,"d":75.5,"r":71.2},{"p":8.8,"d":76.75,"r":71.7},{"p":8.8,"d":78,"r":72.3},{"p":8.8,"d":79.25,"r":72.9},{"p":8.8,"d":80.5,"r":73.4},{"p":8.8,"d":81.75,"r":74.0},{"p":8.8,"d":83,"r":74.6},{"p":8.8,"d":84.25,"r":75.2},{"p":8.8,"d":85.5,"r":75.7},{"p":8.8,"d":86.75,"r":76.3},{"p":8.8,"d":88,"r":76.9},
      {"p":8.85,"d":63,"r":66.3},{"p":8.85,"d":64.25,"r":66.8},{"p":8.85,"d":65.5,"r":67.4},{"p":8.85,"d":66.75,"r":67.9},{"p":8.85,"d":68,"r":68.5},{"p":8.85,"d":69.25,"r":69.0},{"p":8.85,"d":70.5,"r":69.6},{"p":8.85,"d":71.75,"r":70.1},{"p":8.85,"d":73,"r":70.7},{"p":8.85,"d":74.25,"r":71.2},{"p":8.85,"d":75.5,"r":71.8},{"p":8.85,"d":76.75,"r":72.3},{"p":8.85,"d":78,"r":72.9},{"p":8.85,"d":79.25,"r":73.4},{"p":8.85,"d":80.5,"r":74.0},{"p":8.85,"d":81.75,"r":74.5},{"p":8.85,"d":83,"r":75.1},{"p":8.85,"d":84.25,"r":75.7},{"p":8.85,"d":85.5,"r":76.2},{"p":8.85,"d":86.75,"r":76.8},{"p":8.85,"d":88,"r":77.3},
      {"p":8.9,"d":63,"r":67.0},{"p":8.9,"d":64.25,"r":67.6},{"p":8.9,"d":65.5,"r":68.1},{"p":8.9,"d":66.75,"r":68.6},{"p":8.9,"d":68,"r":69.2},{"p":8.9,"d":69.25,"r":69.7},{"p":8.9,"d":70.5,"r":70.2},{"p":8.9,"d":71.75,"r":70.8},{"p":8.9,"d":73,"r":71.3},{"p":8.9,"d":74.25,"r":71.9},{"p":8.9,"d":75.5,"r":72.4},{"p":8.9,"d":76.75,"r":72.9},{"p":8.9,"d":78,"r":73.5},{"p":8.9,"d":79.25,"r":74.0},{"p":8.9,"d":80.5,"r":74.5},{"p":8.9,"d":81.75,"r":75.1},{"p":8.9,"d":83,"r":75.6},{"p":8.9,"d":84.25,"r":76.1},{"p":8.9,"d":85.5,"r":76.7},{"p":8.9,"d":86.75,"r":77.2},{"p":8.9,"d":88,"r":77.7},
      {"p":8.95,"d":63,"r":67.8},{"p":8.95,"d":64.25,"r":68.3},{"p":8.95,"d":65.5,"r":68.8},{"p":8.95,"d":66.75,"r":69.3},{"p":8.95,"d":68,"r":69.9},{"p":8.95,"d":69.25,"r":70.4},{"p":8.95,"d":70.5,"r":70.9},{"p":8.95,"d":71.75,"r":71.4},{"p":8.95,"d":73,"r":71.9},{"p":8.95,"d":74.25,"r":72.5},{"p":8.95,"d":75.5,"r":73.0},{"p":8.95,"d":76.75,"r":73.5},{"p":8.95,"d":78,"r":74.0},{"p":8.95,"d":79.25,"r":74.5},{"p":8.95,"d":80.5,"r":75.1},{"p":8.95,"d":81.75,"r":75.6},{"p":8.95,"d":83,"r":76.1},{"p":8.95,"d":84.25,"r":76.6},{"p":8.95,"d":85.5,"r":77.1},{"p":8.95,"d":86.75,"r":77.6},{"p":8.95,"d":88,"r":78.2},
      {"p":9.0,"d":63,"r":68.5},{"p":9.0,"d":64.25,"r":69.0},{"p":9.0,"d":65.5,"r":69.5},{"p":9.0,"d":66.75,"r":70.0},{"p":9.0,"d":68,"r":70.5},{"p":9.0,"d":69.25,"r":71.0},{"p":9.0,"d":70.5,"r":71.5},{"p":9.0,"d":71.75,"r":72.0},{"p":9.0,"d":73,"r":72.5},{"p":9.0,"d":74.25,"r":73.0},{"p":9.0,"d":75.5,"r":73.6},{"p":9.0,"d":76.75,"r":74.1},{"p":9.0,"d":78,"r":74.6},{"p":9.0,"d":79.25,"r":75.1},{"p":9.0,"d":80.5,"r":75.6},{"p":9.0,"d":81.75,"r":76.1},{"p":9.0,"d":83,"r":76.6},{"p":9.0,"d":84.25,"r":77.1},{"p":9.0,"d":85.5,"r":77.6},{"p":9.0,"d":86.75,"r":78.1},{"p":9.0,"d":88,"r":78.6},
      {"p":9.05,"d":63,"r":69.3},{"p":9.05,"d":64.25,"r":69.7},{"p":9.05,"d":65.5,"r":70.2},{"p":9.05,"d":66.75,"r":70.7},{"p":9.05,"d":68,"r":71.2},{"p":9.05,"d":69.25,"r":71.7},{"p":9.05,"d":70.5,"r":72.2},{"p":9.05,"d":71.75,"r":72.7},{"p":9.05,"d":73,"r":73.1},{"p":9.05,"d":74.25,"r":73.6},{"p":9.05,"d":75.5,"r":74.1},{"p":9.05,"d":76.75,"r":74.6},{"p":9.05,"d":78,"r":75.1},{"p":9.05,"d":79.25,"r":75.6},{"p":9.05,"d":80.5,"r":76.1},{"p":9.05,"d":81.75,"r":76.5},{"p":9.05,"d":83,"r":77.0},{"p":9.05,"d":84.25,"r":77.5},{"p":9.05,"d":85.5,"r":78.0},{"p":9.05,"d":86.75,"r":78.5},{"p":9.05,"d":88,"r":79.0},
      {"p":9.1,"d":63,"r":70.0},{"p":9.1,"d":64.25,"r":70.4},{"p":9.1,"d":65.5,"r":70.9},{"p":9.1,"d":66.75,"r":71.4},{"p":9.1,"d":68,"r":71.8},{"p":9.1,"d":69.25,"r":72.3},{"p":9.1,"d":70.5,"r":72.8},{"p":9.1,"d":71.75,"r":73.3},{"p":9.1,"d":73,"r":73.7},{"p":9.1,"d":74.25,"r":74.2},{"p":9.1,"d":75.5,"r":74.7},{"p":9.1,"d":76.75,"r":75.1},{"p":9.1,"d":78,"r":75.6},{"p":9.1,"d":79.25,"r":76.1},{"p":9.1,"d":80.5,"r":76.5},{"p":9.1,"d":81.75,"r":77.0},{"p":9.1,"d":83,"r":77.5},{"p":9.1,"d":84.25,"r":77.9},{"p":9.1,"d":85.5,"r":78.4},{"p":9.1,"d":86.75,"r":78.9},{"p":9.1,"d":88,"r":79.3},
      {"p":9.15,"d":63,"r":70.7},{"p":9.15,"d":64.25,"r":71.1},{"p":9.15,"d":65.5,"r":71.6},{"p":9.15,"d":66.75,"r":72.0},{"p":9.15,"d":68,"r":72.5},{"p":9.15,"d":69.25,"r":72.9},{"p":9.15,"d":70.5,"r":73.4},{"p":9.15,"d":71.75,"r":73.8},{"p":9.15,"d":73,"r":74.3},{"p":9.15,"d":74.25,"r":74.7},{"p":9.15,"d":75.5,"r":75.2},{"p":9.15,"d":76.75,"r":75.6},{"p":9.15,"d":78,"r":76.1},{"p":9.15,"d":79.25,"r":76.5},{"p":9.15,"d":80.5,"r":77.0},{"p":9.15,"d":81.75,"r":77.4},{"p":9.15,"d":83,"r":77.9},{"p":9.15,"d":84.25,"r":78.4},{"p":9.15,"d":85.5,"r":78.8},{"p":9.15,"d":86.75,"r":79.3},{"p":9.15,"d":88,"r":79.7},
      {"p":9.2,"d":63,"r":71.3},{"p":9.2,"d":64.25,"r":71.8},{"p":9.2,"d":65.5,"r":72.2},{"p":9.2,"d":66.75,"r":72.7},{"p":9.2,"d":68,"r":73.1},{"p":9.2,"d":69.25,"r":73.5},{"p":9.2,"d":70.5,"r":74.0},{"p":9.2,"d":71.75,"r":74.4},{"p":9.2,"d":73,"r":74.8},{"p":9.2,"d":74.25,"r":75.3},{"p":9.2,"d":75.5,"r":75.7},{"p":9.2,"d":76.75,"r":76.1},{"p":9.2,"d":78,"r":76.6},{"p":9.2,"d":79.25,"r":77.0},{"p":9.2,"d":80.5,"r":77.4},{"p":9.2,"d":81.75,"r":77.9},{"p":9.2,"d":83,"r":78.3},{"p":9.2,"d":84.25,"r":78.8},{"p":9.2,"d":85.5,"r":79.2},{"p":9.2,"d":86.75,"r":79.6},{"p":9.2,"d":88,"r":80.1},
      {"p":9.25,"d":63,"r":72.0},{"p":9.25,"d":64.25,"r":72.4},{"p":9.25,"d":65.5,"r":72.9},{"p":9.25,"d":66.75,"r":73.3},{"p":9.25,"d":68,"r":73.7},{"p":9.25,"d":69.25,"r":74.1},{"p":9.25,"d":70.5,"r":74.5},{"p":9.25,"d":71.75,"r":75.0},{"p":9.25,"d":73,"r":75.4},{"p":9.25,"d":74.25,"r":75.8},{"p":9.25,"d":75.5,"r":76.2},{"p":9.25,"d":76.75,"r":76.6},{"p":9.25,"d":78,"r":77.0},{"p":9.25,"d":79.25,"r":77.5},{"p":9.25,"d":80.5,"r":77.9},{"p":9.25,"d":81.75,"r":78.3},{"p":9.25,"d":83,"r":78.7},{"p":9.25,"d":84.25,"r":79.1},{"p":9.25,"d":85.5,"r":79.6},{"p":9.25,"d":86.75,"r":80.0},{"p":9.25,"d":88,"r":80.4},
      {"p":9.3,"d":63,"r":72.7},{"p":9.3,"d":64.25,"r":73.1},{"p":9.3,"d":65.5,"r":73.5},{"p":9.3,"d":66.75,"r":73.9},{"p":9.3,"d":68,"r":74.3},{"p":9.3,"d":69.25,"r":74.7},{"p":9.3,"d":70.5,"r":75.1},{"p":9.3,"d":71.75,"r":75.5},{"p":9.3,"d":73,"r":75.9},{"p":9.3,"d":74.25,"r":76.3},{"p":9.3,"d":75.5,"r":76.7},{"p":9.3,"d":76.75,"r":77.1},{"p":9.3,"d":78,"r":77.5},{"p":9.3,"d":79.25,"r":77.9},{"p":9.3,"d":80.5,"r":78.3},{"p":9.3,"d":81.75,"r":78.7},{"p":9.3,"d":83,"r":79.1},{"p":9.3,"d":84.25,"r":79.5},{"p":9.3,"d":85.5,"r":79.9},{"p":9.3,"d":86.75,"r":80.3},{"p":9.3,"d":88,"r":80.7},
      {"p":9.35,"d":63,"r":73.3},{"p":9.35,"d":64.25,"r":73.7},{"p":9.35,"d":65.5,"r":74.1},{"p":9.35,"d":66.75,"r":74.5},{"p":9.35,"d":68,"r":74.9},{"p":9.35,"d":69.25,"r":75.2},{"p":9.35,"d":70.5,"r":75.6},{"p":9.35,"d":71.75,"r":76.0},{"p":9.35,"d":73,"r":76.4},{"p":9.35,"d":74.25,"r":76.8},{"p":9.35,"d":75.5,"r":77.2},{"p":9.35,"d":76.75,"r":77.6},{"p":9.35,"d":78,"r":77.9},{"p":9.35,"d":79.25,"r":78.3},{"p":9.35,"d":80.5,"r":78.7},{"p":9.35,"d":81.75,"r":79.1},{"p":9.35,"d":83,"r":79.5},{"p":9.35,"d":84.25,"r":79.9},{"p":9.35,"d":85.5,"r":80.2},{"p":9.35,"d":86.75,"r":80.6},{"p":9.35,"d":88,"r":81.0},
      {"p":9.4,"d":63,"r":73.9},{"p":9.4,"d":64.25,"r":74.3},{"p":9.4,"d":65.5,"r":74.7},{"p":9.4,"d":66.75,"r":75.1},{"p":9.4,"d":68,"r":75.4},{"p":9.4,"d":69.25,"r":75.8},{"p":9.4,"d":70.5,"r":76.2},{"p":9.4,"d":71.75,"r":76.5},{"p":9.4,"d":73,"r":76.9},{"p":9.4,"d":74.25,"r":77.3},{"p":9.4,"d":75.5,"r":77.6},{"p":9.4,"d":76.75,"r":78.0},{"p":9.4,"d":78,"r":78.4},{"p":9.4,"d":79.25,"r":78.7},{"p":9.4,"d":80.5,"r":79.1},{"p":9.4,"d":81.75,"r":79.5},{"p":9.4,"d":83,"r":79.8},{"p":9.4,"d":84.25,"r":80.2},{"p":9.4,"d":85.5,"r":80.6},{"p":9.4,"d":86.75,"r":80.9},{"p":9.4,"d":88,"r":81.3},
      {"p":9.45,"d":63,"r":74.6},{"p":9.45,"d":64.25,"r":74.9},{"p":9.45,"d":65.5,"r":75.3},{"p":9.45,"d":66.75,"r":75.6},{"p":9.45,"d":68,"r":76.0},{"p":9.45,"d":69.25,"r":76.3},{"p":9.45,"d":70.5,"r":76.7},{"p":9.45,"d":71.75,"r":77.0},{"p":9.45,"d":73,"r":77.4},{"p":9.45,"d":74.25,"r":77.7},{"p":9.45,"d":75.5,"r":78.1},{"p":9.45,"d":76.75,"r":78.4},{"p":9.45,"d":78,"r":78.8},{"p":9.45,"d":79.25,"r":79.1},{"p":9.45,"d":80.5,"r":79.5},{"p":9.45,"d":81.75,"r":79.8},{"p":9.45,"d":83,"r":80.2},{"p":9.45,"d":84.25,"r":80.5},{"p":9.45,"d":85.5,"r":80.9},{"p":9.45,"d":86.75,"r":81.2},{"p":9.45,"d":88,"r":81.6},
      {"p":9.5,"d":63,"r":75.2},{"p":9.5,"d":64.25,"r":75.5},{"p":9.5,"d":65.5,"r":75.8},{"p":9.5,"d":66.75,"r":76.2},{"p":9.5,"d":68,"r":76.5},{"p":9.5,"d":69.25,"r":76.8},{"p":9.5,"d":70.5,"r":77.2},{"p":9.5,"d":71.75,"r":77.5},{"p":9.5,"d":73,"r":77.8},{"p":9.5,"d":74.25,"r":78.2},{"p":9.5,"d":75.5,"r":78.5},{"p":9.5,"d":76.75,"r":78.8},{"p":9.5,"d":78,"r":79.2},{"p":9.5,"d":79.25,"r":79.5},{"p":9.5,"d":80.5,"r":79.8},{"p":9.5,"d":81.75,"r":80.2},{"p":9.5,"d":83,"r":80.5},{"p":9.5,"d":84.25,"r":80.8},{"p":9.5,"d":85.5,"r":81.2},{"p":9.5,"d":86.75,"r":81.5},{"p":9.5,"d":88,"r":81.9},
      {"p":9.55,"d":63,"r":75.7},{"p":9.55,"d":64.25,"r":76.1},{"p":9.55,"d":65.5,"r":76.4},{"p":9.55,"d":66.75,"r":76.7},{"p":9.55,"d":68,"r":77.0},{"p":9.55,"d":69.25,"r":77.3},{"p":9.55,"d":70.5,"r":77.6},{"p":9.55,"d":71.75,"r":78.0},{"p":9.55,"d":73,"r":78.3},{"p":9.55,"d":74.25,"r":78.6},{"p":9.55,"d":75.5,"r":78.9},{"p":9.55,"d":76.75,"r":79.2},{"p":9.55,"d":78,"r":79.6},{"p":9.55,"d":79.25,"r":79.9},{"p":9.55,"d":80.5,"r":80.2},{"p":9.55,"d":81.75,"r":80.5},{"p":9.55,"d":83,"r":80.8},{"p":9.55,"d":84.25,"r":81.1},{"p":9.55,"d":85.5,"r":81.5},{"p":9.55,"d":86.75,"r":81.8},{"p":9.55,"d":88,"r":82.1},
      {"p":9.6,"d":63,"r":76.3},{"p":9.6,"d":64.25,"r":76.6},{"p":9.6,"d":65.5,"r":76.9},{"p":9.6,"d":66.75,"r":77.2},{"p":9.6,"d":68,"r":77.5},{"p":9.6,"d":69.25,"r":77.8},{"p":9.6,"d":70.5,"r":78.1},{"p":9.6,"d":71.75,"r":78.4},{"p":9.6,"d":73,"r":78.7},{"p":9.6,"d":74.25,"r":79.0},{"p":9.6,"d":75.5,"r":79.3},{"p":9.6,"d":76.75,"r":79.6},{"p":9.6,"d":78,"r":79.9},{"p":9.6,"d":79.25,"r":80.2},{"p":9.6,"d":80.5,"r":80.5},{"p":9.6,"d":81.75,"r":80.8},{"p":9.6,"d":83,"r":81.1},{"p":9.6,"d":84.25,"r":81.4},{"p":9.6,"d":85.5,"r":81.7},{"p":9.6,"d":86.75,"r":82.0},{"p":9.6,"d":88,"r":82.3},
      {"p":9.65,"d":63,"r":76.9},{"p":9.65,"d":64.25,"r":77.1},{"p":9.65,"d":65.5,"r":77.4},{"p":9.65,"d":66.75,"r":77.7},{"p":9.65,"d":68,"r":78.0},{"p":9.65,"d":69.25,"r":78.3},{"p":9.65,"d":70.5,"r":78.6},{"p":9.65,"d":71.75,"r":78.8},{"p":9.65,"d":73,"r":79.1},{"p":9.65,"d":74.25,"r":79.4},{"p":9.65,"d":75.5,"r":79.7},{"p":9.65,"d":76.75,"r":80.0},{"p":9.65,"d":78,"r":80.3},{"p":9.65,"d":79.25,"r":80.6},{"p":9.65,"d":80.5,"r":80.8},{"p":9.65,"d":81.75,"r":81.1},{"p":9.65,"d":83,"r":81.4},{"p":9.65,"d":84.25,"r":81.7},{"p":9.65,"d":85.5,"r":82.0},{"p":9.65,"d":86.75,"r":82.3},{"p":9.65,"d":88,"r":82.6},
      {"p":11.95,"d":71.75,"r":83.3},{"p":11.95,"d":73,"r":82.8},{"p":11.95,"d":74.25,"r":82.3},{"p":11.95,"d":75.5,"r":81.8},{"p":11.95,"d":76.75,"r":81.3},{"p":11.95,"d":78,"r":80.8},{"p":11.95,"d":79.25,"r":80.3},{"p":11.95,"d":80.5,"r":79.9},{"p":11.95,"d":81.75,"r":79.4},{"p":11.95,"d":83,"r":78.9},{"p":11.95,"d":84.25,"r":78.4},{"p":11.95,"d":85.5,"r":77.9},{"p":11.95,"d":86.75,"r":77.4},{"p":11.95,"d":88,"r":76.9},
      {"p":12.0,"d":71.75,"r":83.0},{"p":12.0,"d":73,"r":82.5},{"p":12.0,"d":74.25,"r":82.0},{"p":12.0,"d":75.5,"r":81.5},{"p":12.0,"d":76.75,"r":81.0},{"p":12.0,"d":78,"r":80.5},{"p":12.0,"d":79.25,"r":80.0},{"p":12.0,"d":80.5,"r":79.5},{"p":12.0,"d":81.75,"r":79.0},{"p":12.0,"d":83,"r":78.5},{"p":12.0,"d":84.25,"r":78.0},{"p":12.0,"d":85.5,"r":77.5},{"p":12.0,"d":86.75,"r":77.0},{"p":12.0,"d":88,"r":76.5},
      {"p":12.05,"d":71.75,"r":82.7},{"p":12.05,"d":73,"r":82.2},{"p":12.05,"d":74.25,"r":81.7},{"p":12.05,"d":75.5,"r":81.2},{"p":12.05,"d":76.75,"r":80.7},{"p":12.05,"d":78,"r":80.2},{"p":12.05,"d":79.25,"r":79.6},{"p":12.05,"d":80.5,"r":79.1},{"p":12.05,"d":81.75,"r":78.6},{"p":12.05,"d":83,"r":78.1},{"p":12.05,"d":84.25,"r":77.6},{"p":12.05,"d":85.5,"r":77.0},{"p":12.05,"d":86.75,"r":76.5},{"p":12.05,"d":88,"r":76.0},
      {"p":12.1,"d":71.75,"r":82.5},{"p":12.1,"d":73,"r":81.9},{"p":12.1,"d":74.25,"r":81.4},{"p":12.1,"d":75.5,"r":80.9},{"p":12.1,"d":76.75,"r":80.3},{"p":12.1,"d":78,"r":79.8},{"p":12.1,"d":79.25,"r":79.3},{"p":12.1,"d":80.5,"r":78.7},{"p":12.1,"d":81.75,"r":78.2},{"p":12.1,"d":83,"r":77.7},{"p":12.1,"d":84.25,"r":77.1},{"p":12.1,"d":85.5,"r":76.6},{"p":12.1,"d":86.75,"r":76.0},{"p":12.1,"d":88,"r":75.5},
      {"p":12.15,"d":71.75,"r":82.2},{"p":12.15,"d":73,"r":81.6},{"p":12.15,"d":74.25,"r":81.1},{"p":12.15,"d":75.5,"r":80.5},{"p":12.15,"d":76.75,"r":80.0},{"p":12.15,"d":78,"r":79.4},{"p":12.15,"d":79.25,"r":78.9},{"p":12.15,"d":80.5,"r":78.3},{"p":12.15,"d":81.75,"r":77.8},{"p":12.15,"d":83,"r":77.2},{"p":12.15,"d":84.25,"r":76.7},{"p":12.15,"d":85.5,"r":76.1},{"p":12.15,"d":86.75,"r":75.6},{"p":12.15,"d":88,"r":75.0},
      {"p":12.2,"d":71.75,"r":81.9},{"p":12.2,"d":73,"r":81.3},{"p":12.2,"d":74.25,"r":80.7},{"p":12.2,"d":75.5,"r":80.2},{"p":12.2,"d":76.75,"r":79.6},{"p":12.2,"d":78,"r":79.0},{"p":12.2,"d":79.25,"r":78.5},{"p":12.2,"d":80.5,"r":77.9},{"p":12.2,"d":81.75,"r":77.3},{"p":12.2,"d":83,"r":76.8},{"p":12.2,"d":84.25,"r":76.2},{"p":12.2,"d":85.5,"r":75.6},{"p":12.2,"d":86.75,"r":75.1},{"p":12.2,"d":88,"r":74.5},
      {"p":12.25,"d":71.75,"r":81.6},{"p":12.25,"d":73,"r":81.0},{"p":12.25,"d":74.25,"r":80.4},{"p":12.25,"d":75.5,"r":79.8},{"p":12.25,"d":76.75,"r":79.2},{"p":12.25,"d":78,"r":78.6},{"p":12.25,"d":79.25,"r":78.0},{"p":12.25,"d":80.5,"r":77.5},{"p":12.25,"d":81.75,"r":76.9},{"p":12.25,"d":83,"r":76.3},{"p":12.25,"d":84.25,"r":75.7},{"p":12.25,"d":85.5,"r":75.1},{"p":12.25,"d":86.75,"r":74.5},{"p":12.25,"d":88,"r":73.9},
      {"p":12.3,"d":71.75,"r":81.2},{"p":12.3,"d":73,"r":80.6},{"p":12.3,"d":74.25,"r":80.0},{"p":12.3,"d":75.5,"r":79.4},{"p":12.3,"d":76.75,"r":78.8},{"p":12.3,"d":78,"r":78.2},{"p":12.3,"d":79.25,"r":77.6},{"p":12.3,"d":80.5,"r":77.0},{"p":12.3,"d":81.75,"r":76.4},{"p":12.3,"d":83,"r":75.8},{"p":12.3,"d":84.25,"r":75.2},{"p":12.3,"d":85.5,"r":74.6},{"p":12.3,"d":86.75,"r":74.0},{"p":12.3,"d":88,"r":73.4},
      {"p":12.35,"d":71.75,"r":80.9},{"p":12.35,"d":73,"r":80.3},{"p":12.35,"d":74.25,"r":79.6},{"p":12.35,"d":75.5,"r":79.0},{"p":12.35,"d":76.75,"r":78.4},{"p":12.35,"d":78,"r":77.8},{"p":12.35,"d":79.25,"r":77.2},{"p":12.35,"d":80.5,"r":76.5},{"p":12.35,"d":81.75,"r":75.9},{"p":12.35,"d":83,"r":75.3},{"p":12.35,"d":84.25,"r":74.7},{"p":12.35,"d":85.5,"r":74.1},{"p":12.35,"d":86.75,"r":73.4},{"p":12.35,"d":88,"r":72.8},
      {"p":12.4,"d":71.75,"r":80.5},{"p":12.4,"d":73,"r":79.9},{"p":12.4,"d":74.25,"r":79.3},{"p":12.4,"d":75.5,"r":78.6},{"p":12.4,"d":76.75,"r":78.0},{"p":12.4,"d":78,"r":77.3},{"p":12.4,"d":79.25,"r":76.7},{"p":12.4,"d":80.5,"r":76.1},{"p":12.4,"d":81.75,"r":75.4},{"p":12.4,"d":83,"r":74.8},{"p":12.4,"d":84.25,"r":74.2},{"p":12.4,"d":85.5,"r":73.5},{"p":12.4,"d":86.75,"r":72.9},{"p":12.4,"d":88,"r":72.3},
      {"p":12.45,"d":71.75,"r":80.2},{"p":12.45,"d":73,"r":79.5},{"p":12.45,"d":74.25,"r":78.8},{"p":12.45,"d":75.5,"r":78.2},{"p":12.45,"d":76.75,"r":77.5},{"p":12.45,"d":78,"r":76.9},{"p":12.45,"d":79.25,"r":76.2},{"p":12.45,"d":80.5,"r":75.6},{"p":12.45,"d":81.75,"r":74.9},{"p":12.45,"d":83,"r":74.3},{"p":12.45,"d":84.25,"r":73.6},{"p":12.45,"d":85.5,"r":73.0},{"p":12.45,"d":86.75,"r":72.3},{"p":12.45,"d":88,"r":71.7},
      {"p":12.5,"d":71.75,"r":79.8},{"p":12.5,"d":73,"r":79.1},{"p":12.5,"d":74.25,"r":78.4},{"p":12.5,"d":75.5,"r":77.8},{"p":12.5,"d":76.75,"r":77.1},{"p":12.5,"d":78,"r":76.4},{"p":12.5,"d":79.25,"r":75.7},{"p":12.5,"d":80.5,"r":75.1},{"p":12.5,"d":81.75,"r":74.4},{"p":12.5,"d":83,"r":73.7},{"p":12.5,"d":84.25,"r":73.1},{"p":12.5,"d":85.5,"r":72.4},{"p":12.5,"d":86.75,"r":71.7},{"p":12.5,"d":88,"r":71.1}
    ],
    "contours": [
      {"k":"78L","p":8.93,"d":88},{"k":"78L","p":9.079,"d":84.875},{"k":"78L","p":9.214,"d":81.75},{"k":"78L","p":9.335,"d":78.625},{"k":"78L","p":9.442,"d":75.5},{"k":"78L","p":9.537,"d":72.375},{"k":"78L","p":9.62,"d":69.25},{"k":"78L","p":9.693,"d":66.125},{"k":"78L","p":9.758,"d":63},
      {"k":"80L","p":9.191,"d":88},{"k":"80L","p":9.342,"d":84.875},{"k":"80L","p":9.474,"d":81.75},{"k":"80L","p":9.59,"d":78.625},{"k":"80L","p":9.69,"d":75.5},{"k":"80L","p":9.775,"d":72.375},{"k":"80L","p":9.848,"d":69.25},{"k":"80L","p":9.911,"d":66.125},{"k":"80L","p":9.964,"d":63},
      {"k":"82L","p":9.53,"d":88},{"k":"82L","p":9.683,"d":84.875},{"k":"82L","p":9.811,"d":81.75},{"k":"82L","p":9.916,"d":78.625},{"k":"82L","p":10.0,"d":75.5},{"k":"82L","p":10.068,"d":72.375},{"k":"82L","p":10.122,"d":69.25},{"k":"82L","p":10.166,"d":66.125},{"k":"82L","p":10.201,"d":63},
      {"k":"84L","p":10.201,"d":88},{"k":"84L","p":10.312,"d":86.4375},{"k":"84L","p":10.39,"d":84.875},{"k":"84L","p":10.433,"d":83.3125},{"k":"84L","p":10.455,"d":81.75},{"k":"84L","p":10.474,"d":78.625},{"k":"84L","p":10.481,"d":75.5},{"k":"84L","p":10.486,"d":72.375},{"k":"84L","p":10.489,"d":69.25},{"k":"84L","p":10.49,"d":66.125},{"k":"84L","p":10.492,"d":63},
      {"k":"84R","p":10.558,"d":88},{"k":"84R","p":10.591,"d":86.4375},{"k":"84R","p":10.657,"d":84.875},{"k":"84R","p":10.758,"d":83.3125},{"k":"84R","p":10.881,"d":81.75},{"k":"84R","p":11.151,"d":78.625},{"k":"84R","p":11.432,"d":75.5},{"k":"84R","p":11.717,"d":72.375},{"k":"84R","p":12.003,"d":69.25},{"k":"84R","p":12.29,"d":66.125},{"k":"84R","p":12.5,"d":63.84},
      {"k":"82R","p":11.229,"d":88},{"k":"82R","p":11.365,"d":84.875},{"k":"82R","p":11.526,"d":81.75},{"k":"82R","p":11.709,"d":78.625},{"k":"82R","p":11.914,"d":75.5},{"k":"82R","p":12.135,"d":72.375},{"k":"82R","p":12.369,"d":69.25},{"k":"82R","p":12.5,"d":67.57},
      {"k":"80R","p":11.567,"d":88},{"k":"80R","p":11.706,"d":84.875},{"k":"80R","p":11.862,"d":81.75},{"k":"80R","p":12.035,"d":78.625},{"k":"80R","p":12.224,"d":75.5},{"k":"80R","p":12.427,"d":72.375},{"k":"80R","p":12.5,"d":71.3},
      {"k":"78R","p":11.828,"d":88},{"k":"78R","p":11.968,"d":84.875},{"k":"78R","p":12.122,"d":81.75},{"k":"78R","p":12.29,"d":78.625},{"k":"78R","p":12.472,"d":75.5},{"k":"78R","p":12.5,"d":75.03},
      {"k":"85.6","p":10.803,"d":63},{"k":"85.6","p":10.829,"d":64.25},{"k":"85.6","p":10.862,"d":65.5},{"k":"85.6","p":10.906,"d":66.75},{"k":"85.6","p":10.97,"d":68.0},{"k":"85.6","p":11.019,"d":68.625},{"k":"85.6","p":11.099,"d":69.25},{"k":"85.6","p":11.126,"d":69.375},{"k":"85.6","p":11.167,"d":69.5},{"k":"85.6","p":11.231,"d":69.57},{"k":"85.6","p":11.281,"d":69.5},{"k":"85.6","p":11.354,"d":69.375},{"k":"85.6","p":11.393,"d":69.25},{"k":"85.6","p":11.53,"d":68.625},{"k":"85.6","p":11.637,"d":68.0},{"k":"85.6","p":11.816,"d":66.75},{"k":"85.6","p":11.976,"d":65.5},{"k":"85.6","p":12.124,"d":64.25},{"k":"85.6","p":12.266,"d":63},
      {"k":"86.7","p":11.139,"d":63},{"k":"86.7","p":11.193,"d":63.625},{"k":"86.7","p":11.276,"d":64.25},{"k":"86.7","p":11.332,"d":64.5},{"k":"86.7","p":11.456,"d":64.7},{"k":"86.7","p":11.598,"d":64.5},{"k":"86.7","p":11.677,"d":64.25},{"k":"86.7","p":11.818,"d":63.625},{"k":"86.7","p":11.93,"d":63}
    ],
    "labels": [
      {"t":"78.0","p":9.44,"d":75.92},
      {"t":"80.0","p":9.684,"d":75.92},
      {"t":"82.0","p":9.97,"d":77.19},
      {"t":"84.0","p":10.47,"d":77.19},
      {"t":"84.0","p":11.436,"d":75.92},
      {"t":"82.0","p":11.744,"d":78.45},
      {"t":"80.0","p":12.0,"d":79.68},
      {"t":"78.0","p":12.115,"d":82.13},
      {"t":"85.6","p":11.406,"d":69.67},
      {"t":"86.7","p":11.701,"d":64.76}
    ]
  },
  "layer": [
    {
      "data": {"name": "grid"},
      "mark": {"type": "point", "shape": "M-1,-1.374H1V1.374H-1Z", "size": 151.3, "filled": true, "opacity": 1, "strokeWidth": 0, "clip": true},
      "encoding": {
        "x": {
          "field": "p", "type": "quantitative",
          "scale": {"domain": [8.5, 12.5], "nice": false, "zero": false},
          "axis": {
            "values": [8.5, 9.5, 10.5, 11.5, 12.5], "format": ".2f", "title": "A: pH", "grid": false,
            "labelFlush": false, "tickSize": 9, "tickColor": "#555", "domainColor": "#555",
            "labelFont": "Liberation Sans", "labelFontSize": 9.5, "labelColor": "#333", "labelPadding": 5,
            "titleFont": "Liberation Sans", "titleFontSize": 13, "titleFontWeight": "normal", "titleColor": "#000",
            "titleY": 66, "titleBaseline": "alphabetic"
          }
        },
        "y": {
          "field": "d", "type": "quantitative",
          "scale": {"domain": [63, 88], "nice": false, "zero": false},
          "axis": {
            "values": [63, 68, 73, 78, 83, 88], "format": ".2f", "title": "C: d80", "grid": false,
            "labelFlush": false, "tickSize": 12, "tickColor": "#555", "domainColor": "#555",
            "labelFont": "Liberation Sans", "labelFontSize": 9.5, "labelColor": "#333", "labelPadding": 6,
            "titleFont": "Liberation Sans", "titleFontSize": 13, "titleFontWeight": "normal", "titleColor": "#000",
            "titleAngle": -90, "titleX": -85.5, "titleY": 163, "titleAlign": "center", "titleBaseline": "alphabetic"
          }
        },
        "color": {
          "field": "r", "type": "quantitative",
          "scale": {"domain": [71, 75.5, 80, 85, 89.5], "range": ["#0000ff", "#00ffff", "#00ff00", "#ffff00", "#ff0000"], "interpolate": "rgb", "clamp": true},
          "legend": null
        }
      }
    },
    {
      "data": {"name": "fine"},
      "mark": {"type": "point", "shape": "M-0.373,-1H0.373V1H-0.373Z", "size": 285.6, "filled": true, "opacity": 1, "strokeWidth": 0, "clip": true},
      "encoding": {
        "x": {"field": "p", "type": "quantitative"},
        "y": {"field": "d", "type": "quantitative"},
        "color": {
          "field": "r", "type": "quantitative",
          "scale": {"domain": [71, 75.5, 80, 85, 89.5], "range": ["#0000ff", "#00ffff", "#00ff00", "#ffff00", "#ff0000"], "interpolate": "rgb", "clamp": true},
          "legend": null
        }
      }
    },
    {
      "data": {"name": "half"},
      "mark": {"type": "point", "shape": "M-0.733,-1H0.733V1H-0.733Z", "size": 73.96, "filled": true, "opacity": 1, "strokeWidth": 0, "clip": true},
      "encoding": {
        "x": {"field": "p", "type": "quantitative"},
        "y": {"field": "d", "type": "quantitative"},
        "color": {
          "field": "r", "type": "quantitative",
          "scale": {"domain": [71, 75.5, 80, 85, 89.5], "range": ["#0000ff", "#00ffff", "#00ff00", "#ffff00", "#ff0000"], "interpolate": "rgb", "clamp": true},
          "legend": null
        }
      }
    },
    {
      "data": {"name": "contours"},
      "mark": {"type": "line", "color": "#222", "strokeWidth": 1, "clip": true},
      "encoding": {
        "x": {"field": "p", "type": "quantitative"},
        "y": {"field": "d", "type": "quantitative"},
        "detail": {"field": "k"}
      }
    },
    {
      "data": {"name": "labels"},
      "mark": {"type": "point", "shape": "M-1,-0.44H1V0.44H-1Z", "size": 729, "filled": true, "color": "white", "stroke": "#333", "strokeWidth": 1, "opacity": 1},
      "encoding": {
        "x": {"field": "p", "type": "quantitative"},
        "y": {"field": "d", "type": "quantitative"}
      }
    },
    {
      "data": {"name": "labels"},
      "mark": {"type": "text", "font": "Liberation Sans", "fontSize": 11.5, "color": "#111", "align": "center", "baseline": "middle", "dy": 0.5},
      "encoding": {
        "x": {"field": "p", "type": "quantitative"},
        "y": {"field": "d", "type": "quantitative"},
        "text": {"field": "t"}
      }
    }
  ]
}
